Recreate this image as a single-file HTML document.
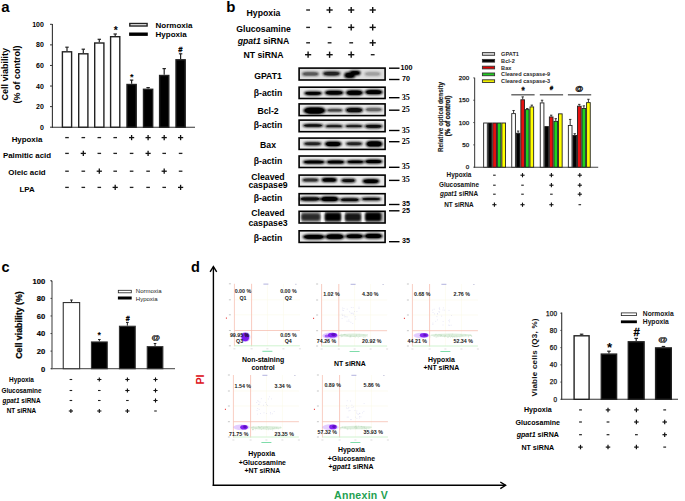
<!DOCTYPE html>
<html><head><meta charset="utf-8"><style>
html,body{margin:0;padding:0;background:#fff;}
svg{display:block;font-family:"Liberation Sans", sans-serif;}
</style></head><body>
<svg width="685" height="501" viewBox="0 0 685 501">
<rect width="685" height="501" fill="#fff"/>
<text x="1.2" y="11.5" font-size="15" text-anchor="start" fill="#000" style="font-weight:bold;">a</text>
<line x1="52.4" y1="24.0" x2="52.4" y2="127.7" stroke="#333" stroke-width="1.1" />
<line x1="51.9" y1="127.2" x2="195" y2="127.2" stroke="#333" stroke-width="1.1" />
<line x1="50.0" y1="127.2" x2="52.4" y2="127.2" stroke="#333" stroke-width="1" />
<text x="43.9" y="129.7" font-size="7" text-anchor="end" fill="#000" style="font-weight:bold;">0</text>
<line x1="50.0" y1="106.62" x2="52.4" y2="106.62" stroke="#333" stroke-width="1" />
<text x="43.9" y="109.12" font-size="7" text-anchor="end" fill="#000" style="font-weight:bold;">20</text>
<line x1="50.0" y1="86.04" x2="52.4" y2="86.04" stroke="#333" stroke-width="1" />
<text x="43.9" y="88.54" font-size="7" text-anchor="end" fill="#000" style="font-weight:bold;">40</text>
<line x1="50.0" y1="65.46000000000001" x2="52.4" y2="65.46000000000001" stroke="#333" stroke-width="1" />
<text x="43.9" y="67.96000000000001" font-size="7" text-anchor="end" fill="#000" style="font-weight:bold;">60</text>
<line x1="50.0" y1="44.88000000000001" x2="52.4" y2="44.88000000000001" stroke="#333" stroke-width="1" />
<text x="43.9" y="47.38000000000001" font-size="7" text-anchor="end" fill="#000" style="font-weight:bold;">80</text>
<line x1="50.0" y1="24.30000000000001" x2="52.4" y2="24.30000000000001" stroke="#333" stroke-width="1" />
<text x="43.9" y="26.80000000000001" font-size="7" text-anchor="end" fill="#000" style="font-weight:bold;">100</text>
<line x1="67" y1="51.1" x2="67" y2="47.2" stroke="#222" stroke-width="1.2" />
<line x1="65.3" y1="47.2" x2="68.7" y2="47.2" stroke="#222" stroke-width="1.2" />
<rect x="62.40" y="51.80" width="9.20" height="75.40" fill="#fff" stroke="#222" stroke-width="1.4" />
<line x1="83.3" y1="53.1" x2="83.3" y2="49.2" stroke="#222" stroke-width="1.2" />
<line x1="81.6" y1="49.2" x2="85.0" y2="49.2" stroke="#222" stroke-width="1.2" />
<rect x="78.70" y="53.80" width="9.20" height="73.40" fill="#fff" stroke="#222" stroke-width="1.4" />
<line x1="99.3" y1="42.3" x2="99.3" y2="39.3" stroke="#222" stroke-width="1.2" />
<line x1="97.6" y1="39.3" x2="101.0" y2="39.3" stroke="#222" stroke-width="1.2" />
<rect x="94.70" y="43.00" width="9.20" height="84.20" fill="#fff" stroke="#222" stroke-width="1.4" />
<line x1="115.2" y1="36.0" x2="115.2" y2="34.0" stroke="#222" stroke-width="1.2" />
<line x1="113.5" y1="34.0" x2="116.9" y2="34.0" stroke="#222" stroke-width="1.2" />
<rect x="110.60" y="36.70" width="9.20" height="90.50" fill="#fff" stroke="#222" stroke-width="1.4" />
<line x1="131.6" y1="83.8" x2="131.6" y2="80.1" stroke="#222" stroke-width="1.2" />
<line x1="129.9" y1="80.1" x2="133.29999999999998" y2="80.1" stroke="#222" stroke-width="1.2" />
<rect x="127.00" y="84.50" width="9.20" height="42.70" fill="#000" stroke="#222" stroke-width="1.4" />
<line x1="148.1" y1="88.6" x2="148.1" y2="87.6" stroke="#222" stroke-width="1.2" />
<line x1="146.4" y1="87.6" x2="149.79999999999998" y2="87.6" stroke="#222" stroke-width="1.2" />
<rect x="143.50" y="89.30" width="9.20" height="37.90" fill="#000" stroke="#222" stroke-width="1.4" />
<line x1="164.2" y1="74.8" x2="164.2" y2="68.6" stroke="#222" stroke-width="1.2" />
<line x1="162.5" y1="68.6" x2="165.89999999999998" y2="68.6" stroke="#222" stroke-width="1.2" />
<rect x="159.60" y="75.50" width="9.20" height="51.70" fill="#000" stroke="#222" stroke-width="1.4" />
<line x1="180.6" y1="59.1" x2="180.6" y2="53.8" stroke="#222" stroke-width="1.2" />
<line x1="178.9" y1="53.8" x2="182.29999999999998" y2="53.8" stroke="#222" stroke-width="1.2" />
<rect x="176.00" y="59.80" width="9.20" height="67.40" fill="#000" stroke="#222" stroke-width="1.4" />
<text x="115.7" y="34.0" font-size="10.4" text-anchor="middle" fill="#000" style="font-weight:bold;">*</text>
<text x="131.7" y="79.9" font-size="9.2" text-anchor="middle" fill="#000" style="font-weight:bold;">*</text>
<text x="180.2" y="51.7" font-size="7.4" text-anchor="middle" fill="#000" style="font-weight:bold;font-style:italic;stroke:#000;stroke-width:0.3px">#</text>
<rect x="129.80" y="23.50" width="17.30" height="2.50" fill="#fff" stroke="#222" stroke-width="1.4" />
<rect x="129.10" y="32.50" width="18.70" height="3.40" fill="#000" stroke="none" stroke-width="0" />
<text x="155.6" y="27.6" font-size="8" text-anchor="start" fill="#000" style="font-weight:bold;">Normoxia</text>
<text x="155.6" y="37.1" font-size="8" text-anchor="start" fill="#000" style="font-weight:bold;">Hypoxia</text>
<text transform="translate(7.9,74.3) rotate(-90)" font-size="9" text-anchor="middle" fill="#000" style="font-weight:bold;">Cell viability</text>
<text transform="translate(19.7,74.5) rotate(-90)" font-size="9" text-anchor="middle" fill="#000" style="font-weight:bold;">(% of control)</text>
<text x="27" y="141.9" font-size="7.9" text-anchor="middle" fill="#000" style="font-weight:bold;">Hypoxia</text>
<line x1="65.2" y1="137.6" x2="68.8" y2="137.6" stroke="#222" stroke-width="1.3" />
<line x1="81.5" y1="137.6" x2="85.1" y2="137.6" stroke="#222" stroke-width="1.3" />
<line x1="97.5" y1="137.6" x2="101.1" y2="137.6" stroke="#222" stroke-width="1.3" />
<line x1="113.4" y1="137.6" x2="117.0" y2="137.6" stroke="#222" stroke-width="1.3" />
<line x1="129.0" y1="137.6" x2="134.2" y2="137.6" stroke="#111" stroke-width="1.3" />
<line x1="131.6" y1="135.0" x2="131.6" y2="140.2" stroke="#111" stroke-width="1.3" />
<line x1="145.5" y1="137.6" x2="150.7" y2="137.6" stroke="#111" stroke-width="1.3" />
<line x1="148.1" y1="135.0" x2="148.1" y2="140.2" stroke="#111" stroke-width="1.3" />
<line x1="161.6" y1="137.6" x2="166.79999999999998" y2="137.6" stroke="#111" stroke-width="1.3" />
<line x1="164.2" y1="135.0" x2="164.2" y2="140.2" stroke="#111" stroke-width="1.3" />
<line x1="178.0" y1="137.6" x2="183.2" y2="137.6" stroke="#111" stroke-width="1.3" />
<line x1="180.6" y1="135.0" x2="180.6" y2="140.2" stroke="#111" stroke-width="1.3" />
<text x="27" y="157.7" font-size="7.9" text-anchor="middle" fill="#000" style="font-weight:bold;">Palmitic acid</text>
<line x1="65.2" y1="153.39999999999998" x2="68.8" y2="153.39999999999998" stroke="#222" stroke-width="1.3" />
<line x1="80.7" y1="153.39999999999998" x2="85.89999999999999" y2="153.39999999999998" stroke="#111" stroke-width="1.3" />
<line x1="83.3" y1="150.79999999999998" x2="83.3" y2="155.99999999999997" stroke="#111" stroke-width="1.3" />
<line x1="97.5" y1="153.39999999999998" x2="101.1" y2="153.39999999999998" stroke="#222" stroke-width="1.3" />
<line x1="113.4" y1="153.39999999999998" x2="117.0" y2="153.39999999999998" stroke="#222" stroke-width="1.3" />
<line x1="129.79999999999998" y1="153.39999999999998" x2="133.4" y2="153.39999999999998" stroke="#222" stroke-width="1.3" />
<line x1="145.5" y1="153.39999999999998" x2="150.7" y2="153.39999999999998" stroke="#111" stroke-width="1.3" />
<line x1="148.1" y1="150.79999999999998" x2="148.1" y2="155.99999999999997" stroke="#111" stroke-width="1.3" />
<line x1="162.39999999999998" y1="153.39999999999998" x2="166.0" y2="153.39999999999998" stroke="#222" stroke-width="1.3" />
<line x1="178.79999999999998" y1="153.39999999999998" x2="182.4" y2="153.39999999999998" stroke="#222" stroke-width="1.3" />
<text x="27" y="174.8" font-size="7.9" text-anchor="middle" fill="#000" style="font-weight:bold;">Oleic acid</text>
<line x1="65.2" y1="171.2" x2="68.8" y2="171.2" stroke="#222" stroke-width="1.3" />
<line x1="81.5" y1="171.2" x2="85.1" y2="171.2" stroke="#222" stroke-width="1.3" />
<line x1="96.7" y1="171.2" x2="101.89999999999999" y2="171.2" stroke="#111" stroke-width="1.3" />
<line x1="99.3" y1="168.6" x2="99.3" y2="173.79999999999998" stroke="#111" stroke-width="1.3" />
<line x1="113.4" y1="171.2" x2="117.0" y2="171.2" stroke="#222" stroke-width="1.3" />
<line x1="129.79999999999998" y1="171.2" x2="133.4" y2="171.2" stroke="#222" stroke-width="1.3" />
<line x1="146.29999999999998" y1="171.2" x2="149.9" y2="171.2" stroke="#222" stroke-width="1.3" />
<line x1="161.6" y1="171.2" x2="166.79999999999998" y2="171.2" stroke="#111" stroke-width="1.3" />
<line x1="164.2" y1="168.6" x2="164.2" y2="173.79999999999998" stroke="#111" stroke-width="1.3" />
<line x1="178.79999999999998" y1="171.2" x2="182.4" y2="171.2" stroke="#222" stroke-width="1.3" />
<text x="27" y="191.7" font-size="7.9" text-anchor="middle" fill="#000" style="font-weight:bold;">LPA</text>
<line x1="65.2" y1="187.39999999999998" x2="68.8" y2="187.39999999999998" stroke="#222" stroke-width="1.3" />
<line x1="81.5" y1="187.39999999999998" x2="85.1" y2="187.39999999999998" stroke="#222" stroke-width="1.3" />
<line x1="97.5" y1="187.39999999999998" x2="101.1" y2="187.39999999999998" stroke="#222" stroke-width="1.3" />
<line x1="112.60000000000001" y1="187.39999999999998" x2="117.8" y2="187.39999999999998" stroke="#111" stroke-width="1.3" />
<line x1="115.2" y1="184.79999999999998" x2="115.2" y2="189.99999999999997" stroke="#111" stroke-width="1.3" />
<line x1="129.79999999999998" y1="187.39999999999998" x2="133.4" y2="187.39999999999998" stroke="#222" stroke-width="1.3" />
<line x1="146.29999999999998" y1="187.39999999999998" x2="149.9" y2="187.39999999999998" stroke="#222" stroke-width="1.3" />
<line x1="162.39999999999998" y1="187.39999999999998" x2="166.0" y2="187.39999999999998" stroke="#222" stroke-width="1.3" />
<line x1="178.0" y1="187.39999999999998" x2="183.2" y2="187.39999999999998" stroke="#111" stroke-width="1.3" />
<line x1="180.6" y1="184.79999999999998" x2="180.6" y2="189.99999999999997" stroke="#111" stroke-width="1.3" />
<text x="226.2" y="11.5" font-size="15" text-anchor="start" fill="#000" style="font-weight:bold;">b</text>
<text x="263.5" y="15.8" font-size="8.7" text-anchor="middle" fill="#000" style="font-weight:bold;">Hypoxia</text>
<line x1="306.20000000000005" y1="10.0" x2="310.0" y2="10.0" stroke="#222" stroke-width="1.4" />
<line x1="326.5" y1="10.0" x2="332.70000000000005" y2="10.0" stroke="#111" stroke-width="1.4" />
<line x1="329.6" y1="6.9" x2="329.6" y2="13.1" stroke="#111" stroke-width="1.4" />
<line x1="348.09999999999997" y1="10.0" x2="354.3" y2="10.0" stroke="#111" stroke-width="1.4" />
<line x1="351.2" y1="6.9" x2="351.2" y2="13.1" stroke="#111" stroke-width="1.4" />
<line x1="369.59999999999997" y1="10.0" x2="375.8" y2="10.0" stroke="#111" stroke-width="1.4" />
<line x1="372.7" y1="6.9" x2="372.7" y2="13.1" stroke="#111" stroke-width="1.4" />
<text x="263.5" y="31.9" font-size="8.7" text-anchor="middle" fill="#000" style="font-weight:bold;">Glucosamine</text>
<line x1="306.20000000000005" y1="27.4" x2="310.0" y2="27.4" stroke="#222" stroke-width="1.4" />
<line x1="327.70000000000005" y1="27.4" x2="331.5" y2="27.4" stroke="#222" stroke-width="1.4" />
<line x1="348.09999999999997" y1="27.4" x2="354.3" y2="27.4" stroke="#111" stroke-width="1.4" />
<line x1="351.2" y1="24.299999999999997" x2="351.2" y2="30.5" stroke="#111" stroke-width="1.4" />
<line x1="369.59999999999997" y1="27.4" x2="375.8" y2="27.4" stroke="#111" stroke-width="1.4" />
<line x1="372.7" y1="24.299999999999997" x2="372.7" y2="30.5" stroke="#111" stroke-width="1.4" />
<text x="263.5" y="44.2" font-size="8.7" text-anchor="middle" fill="#000" style="font-weight:bold;"><tspan style="font-style:italic">gpat1</tspan> siRNA</text>
<line x1="306.20000000000005" y1="42.8" x2="310.0" y2="42.8" stroke="#222" stroke-width="1.4" />
<line x1="327.70000000000005" y1="42.8" x2="331.5" y2="42.8" stroke="#222" stroke-width="1.4" />
<line x1="349.3" y1="42.8" x2="353.09999999999997" y2="42.8" stroke="#222" stroke-width="1.4" />
<line x1="369.59999999999997" y1="42.8" x2="375.8" y2="42.8" stroke="#111" stroke-width="1.4" />
<line x1="372.7" y1="39.699999999999996" x2="372.7" y2="45.9" stroke="#111" stroke-width="1.4" />
<text x="263.5" y="58.1" font-size="8.7" text-anchor="middle" fill="#000" style="font-weight:bold;">NT siRNA</text>
<line x1="305.0" y1="54.7" x2="311.20000000000005" y2="54.7" stroke="#111" stroke-width="1.4" />
<line x1="308.1" y1="51.6" x2="308.1" y2="57.800000000000004" stroke="#111" stroke-width="1.4" />
<line x1="326.5" y1="54.7" x2="332.70000000000005" y2="54.7" stroke="#111" stroke-width="1.4" />
<line x1="329.6" y1="51.6" x2="329.6" y2="57.800000000000004" stroke="#111" stroke-width="1.4" />
<line x1="348.09999999999997" y1="54.7" x2="354.3" y2="54.7" stroke="#111" stroke-width="1.4" />
<line x1="351.2" y1="51.6" x2="351.2" y2="57.800000000000004" stroke="#111" stroke-width="1.4" />
<line x1="370.8" y1="54.7" x2="374.59999999999997" y2="54.7" stroke="#222" stroke-width="1.4" />
<rect x="482.40" y="52.60" width="12.20" height="2.70" fill="#d4d4d4" stroke="#333" stroke-width="0.9" />
<text x="501.1" y="55.9" font-size="5.6" text-anchor="start" fill="#2a2a2a" style="font-weight:bold;">GPAT1</text>
<rect x="482.40" y="59.40" width="12.20" height="2.70" fill="#000" stroke="#333" stroke-width="0.9" />
<text x="501.1" y="62.699999999999996" font-size="5.6" text-anchor="start" fill="#2a2a2a" style="font-weight:bold;">Bcl-2</text>
<rect x="482.40" y="66.20" width="12.20" height="2.70" fill="#e00000" stroke="#333" stroke-width="0.9" />
<text x="501.1" y="69.5" font-size="5.6" text-anchor="start" fill="#2a2a2a" style="font-weight:bold;">Bax</text>
<rect x="482.40" y="73.00" width="12.20" height="2.70" fill="#22cc22" stroke="#333" stroke-width="0.9" />
<text x="501.1" y="76.3" font-size="5.6" text-anchor="start" fill="#2a2a2a" style="font-weight:bold;">Cleared caspase-9</text>
<rect x="482.40" y="79.80" width="12.20" height="2.70" fill="#f0f000" stroke="#333" stroke-width="0.9" />
<text x="501.1" y="83.1" font-size="5.6" text-anchor="start" fill="#2a2a2a" style="font-weight:bold;">Cleared caspase-3</text>
<text x="1.4" y="272.1" font-size="14.5" text-anchor="start" fill="#000" style="font-weight:bold;">c</text>
<text x="190.9" y="272.1" font-size="14.5" text-anchor="start" fill="#000" style="font-weight:bold;">d</text>
<defs><filter id="bl" x="-30%" y="-100%" width="160%" height="300%"><feGaussianBlur stdDeviation="1.0"/></filter><filter id="bl2" x="-30%" y="-100%" width="160%" height="300%"><feGaussianBlur stdDeviation="0.6"/></filter><filter id="bl3" x="-50%" y="-50%" width="200%" height="200%"><feGaussianBlur stdDeviation="1.2"/></filter></defs>
<rect x="299.10" y="68.10" width="86.00" height="11.90" fill="#dedede" stroke="none" stroke-width="0" />
<g filter="url(#bl)">
<rect x="301.80" y="71.85" width="17.30" height="4.20" rx="5.19" ry="2.10" fill="#5a5a5a"/>
<rect x="322.60" y="71.15" width="17.90" height="4.90" rx="5.37" ry="2.45" fill="#222"/>
<rect x="344.10" y="72.35" width="11.30" height="5.90" rx="3.39" ry="2.95" fill="#000"/>
<rect x="349.10" y="70.55" width="11.60" height="4.70" rx="3.48" ry="2.35" fill="#000"/>
<rect x="364.30" y="71.85" width="16.60" height="4.20" rx="4.98" ry="2.10" fill="#a0a0a0"/>
</g>
<g filter="url(#bl2)">
<rect x="303.60" y="72.60" width="13.70" height="2.70" rx="4.11" ry="1.35" fill="#5a5a5a"/>
<rect x="324.40" y="71.90" width="14.30" height="3.40" rx="4.29" ry="1.70" fill="#222"/>
<rect x="345.90" y="73.10" width="7.70" height="4.40" rx="2.31" ry="2.20" fill="#000"/>
<rect x="350.90" y="71.30" width="8.00" height="3.20" rx="2.40" ry="1.60" fill="#000"/>
<rect x="366.10" y="72.60" width="13.00" height="2.70" rx="3.90" ry="1.35" fill="#a0a0a0"/>
</g>
<rect x="299.10" y="68.10" width="86.00" height="11.90" fill="none" stroke="#000" stroke-width="1.6" />
<rect x="299.10" y="87.20" width="86.00" height="11.30" fill="#e9e9e9" stroke="none" stroke-width="0" />
<g filter="url(#bl)">
<rect x="303.80" y="91.25" width="18.60" height="4.20" rx="5.58" ry="2.10" fill="#000"/>
<rect x="324.40" y="90.35" width="19.50" height="4.80" rx="5.85" ry="2.40" fill="#000"/>
<rect x="345.50" y="89.95" width="17.90" height="5.50" rx="5.37" ry="2.75" fill="#000"/>
<rect x="364.70" y="89.55" width="18.20" height="5.30" rx="5.46" ry="2.65" fill="#000"/>
</g>
<g filter="url(#bl2)">
<rect x="305.60" y="92.00" width="15.00" height="2.70" rx="4.50" ry="1.35" fill="#000"/>
<rect x="326.20" y="91.10" width="15.90" height="3.30" rx="4.77" ry="1.65" fill="#000"/>
<rect x="347.30" y="90.70" width="14.30" height="4.00" rx="4.29" ry="2.00" fill="#000"/>
<rect x="366.50" y="90.30" width="14.60" height="3.80" rx="4.38" ry="1.90" fill="#000"/>
</g>
<rect x="299.10" y="87.20" width="86.00" height="11.30" fill="none" stroke="#000" stroke-width="1.6" />
<rect x="299.10" y="103.90" width="86.00" height="11.70" fill="#e9e9e9" stroke="none" stroke-width="0" />
<g filter="url(#bl)">
<rect x="303.20" y="106.95" width="22.60" height="7.20" rx="6.78" ry="3.60" fill="#000"/>
<rect x="326.30" y="108.45" width="16.90" height="3.60" rx="5.07" ry="1.80" fill="#444"/>
<rect x="345.10" y="107.45" width="18.30" height="5.20" rx="5.49" ry="2.60" fill="#080808"/>
<rect x="364.70" y="107.55" width="18.20" height="4.10" rx="5.46" ry="2.05" fill="#666"/>
</g>
<g filter="url(#bl2)">
<rect x="305.00" y="107.70" width="19.00" height="5.70" rx="5.70" ry="2.85" fill="#000"/>
<rect x="328.10" y="109.20" width="13.30" height="2.10" rx="3.99" ry="1.05" fill="#444"/>
<rect x="346.90" y="108.20" width="14.70" height="3.70" rx="4.41" ry="1.85" fill="#080808"/>
<rect x="366.50" y="108.30" width="14.60" height="2.60" rx="4.38" ry="1.30" fill="#666"/>
</g>
<rect x="299.10" y="103.90" width="86.00" height="11.70" fill="none" stroke="#000" stroke-width="1.6" />
<rect x="299.10" y="120.10" width="86.00" height="11.60" fill="#e9e9e9" stroke="none" stroke-width="0" />
<g filter="url(#bl)">
<rect x="302.50" y="123.65" width="21.00" height="3.50" rx="6.30" ry="1.75" fill="#0a0a0a"/>
<rect x="324.90" y="124.55" width="18.30" height="3.20" rx="5.49" ry="1.60" fill="#1a1a1a"/>
<rect x="344.50" y="124.55" width="18.90" height="3.20" rx="5.67" ry="1.60" fill="#1a1a1a"/>
<rect x="364.30" y="124.15" width="18.60" height="4.30" rx="5.58" ry="2.15" fill="#111"/>
</g>
<g filter="url(#bl2)">
<rect x="304.30" y="124.40" width="17.40" height="2.00" rx="5.22" ry="1.00" fill="#0a0a0a"/>
<rect x="326.70" y="125.30" width="14.70" height="1.70" rx="4.41" ry="0.85" fill="#1a1a1a"/>
<rect x="346.30" y="125.30" width="15.30" height="1.70" rx="4.59" ry="0.85" fill="#1a1a1a"/>
<rect x="366.10" y="124.90" width="15.00" height="2.80" rx="4.50" ry="1.40" fill="#111"/>
</g>
<rect x="299.10" y="120.10" width="86.00" height="11.60" fill="none" stroke="#000" stroke-width="1.6" />
<rect x="299.10" y="138.10" width="86.00" height="11.30" fill="#e9e9e9" stroke="none" stroke-width="0" />
<g filter="url(#bl)">
<rect x="303.40" y="141.85" width="18.30" height="3.80" rx="5.49" ry="1.90" fill="#222"/>
<rect x="324.40" y="141.15" width="17.50" height="5.50" rx="5.25" ry="2.75" fill="#000"/>
<rect x="345.50" y="141.85" width="17.20" height="3.80" rx="5.16" ry="1.90" fill="#222"/>
<rect x="365.60" y="140.75" width="17.30" height="6.30" rx="5.19" ry="3.15" fill="#000"/>
</g>
<g filter="url(#bl2)">
<rect x="305.20" y="142.60" width="14.70" height="2.30" rx="4.41" ry="1.15" fill="#222"/>
<rect x="326.20" y="141.90" width="13.90" height="4.00" rx="4.17" ry="2.00" fill="#000"/>
<rect x="347.30" y="142.60" width="13.60" height="2.30" rx="4.08" ry="1.15" fill="#222"/>
<rect x="367.40" y="141.50" width="13.70" height="4.80" rx="4.11" ry="2.40" fill="#000"/>
</g>
<rect x="299.10" y="138.10" width="86.00" height="11.30" fill="none" stroke="#000" stroke-width="1.6" />
<rect x="299.10" y="156.00" width="86.00" height="11.50" fill="#e9e9e9" stroke="none" stroke-width="0" />
<g filter="url(#bl)">
<rect x="302.50" y="159.95" width="22.90" height="4.10" rx="6.87" ry="2.05" fill="#000"/>
<rect x="326.00" y="159.95" width="19.20" height="4.10" rx="5.76" ry="2.05" fill="#000"/>
<rect x="346.10" y="159.95" width="18.60" height="3.80" rx="5.58" ry="1.90" fill="#000"/>
<rect x="364.30" y="159.25" width="18.60" height="4.50" rx="5.58" ry="2.25" fill="#000"/>
</g>
<g filter="url(#bl2)">
<rect x="304.30" y="160.70" width="19.30" height="2.60" rx="5.79" ry="1.30" fill="#000"/>
<rect x="327.80" y="160.70" width="15.60" height="2.60" rx="4.68" ry="1.30" fill="#000"/>
<rect x="347.90" y="160.70" width="15.00" height="2.30" rx="4.50" ry="1.15" fill="#000"/>
<rect x="366.10" y="160.00" width="15.00" height="3.00" rx="4.50" ry="1.50" fill="#000"/>
</g>
<rect x="299.10" y="156.00" width="86.00" height="11.50" fill="none" stroke="#000" stroke-width="1.6" />
<rect x="299.10" y="175.10" width="86.00" height="11.40" fill="#e9e9e9" stroke="none" stroke-width="0" />
<g filter="url(#bl)">
<rect x="301.80" y="178.05" width="17.30" height="4.00" rx="5.19" ry="2.00" fill="#333"/>
<rect x="321.30" y="177.55" width="15.90" height="4.80" rx="4.77" ry="2.40" fill="#000"/>
<rect x="340.80" y="178.45" width="15.20" height="4.20" rx="4.56" ry="2.10" fill="#111"/>
<rect x="362.30" y="178.85" width="17.20" height="4.80" rx="5.16" ry="2.40" fill="#000"/>
</g>
<g filter="url(#bl2)">
<rect x="303.60" y="178.80" width="13.70" height="2.50" rx="4.11" ry="1.25" fill="#333"/>
<rect x="323.10" y="178.30" width="12.30" height="3.30" rx="3.69" ry="1.65" fill="#000"/>
<rect x="342.60" y="179.20" width="11.60" height="2.70" rx="3.48" ry="1.35" fill="#111"/>
<rect x="364.10" y="179.60" width="13.60" height="3.30" rx="4.08" ry="1.65" fill="#000"/>
</g>
<rect x="299.10" y="175.10" width="86.00" height="11.40" fill="none" stroke="#000" stroke-width="1.6" />
<rect x="299.10" y="193.70" width="86.00" height="11.40" fill="#e9e9e9" stroke="none" stroke-width="0" />
<g filter="url(#bl)">
<rect x="299.10" y="196.85" width="22.00" height="4.30" rx="6.60" ry="2.15" fill="#111"/>
<rect x="319.90" y="196.35" width="19.30" height="5.50" rx="5.79" ry="2.75" fill="#000"/>
<rect x="339.40" y="197.65" width="20.60" height="4.20" rx="6.18" ry="2.10" fill="#111"/>
<rect x="360.90" y="197.25" width="20.60" height="3.60" rx="6.18" ry="1.80" fill="#111"/>
</g>
<g filter="url(#bl2)">
<rect x="300.90" y="197.60" width="18.40" height="2.80" rx="5.52" ry="1.40" fill="#111"/>
<rect x="321.70" y="197.10" width="15.70" height="4.00" rx="4.71" ry="2.00" fill="#000"/>
<rect x="341.20" y="198.40" width="17.00" height="2.70" rx="5.10" ry="1.35" fill="#111"/>
<rect x="362.70" y="198.00" width="17.00" height="2.10" rx="5.10" ry="1.05" fill="#111"/>
</g>
<rect x="299.10" y="193.70" width="86.00" height="11.40" fill="none" stroke="#000" stroke-width="1.6" />
<rect x="299.10" y="211.30" width="86.00" height="11.70" fill="#c4c4c4" stroke="none" stroke-width="0" />
<rect x="320.80" y="211.50" width="4.20" height="11.30" fill="#ffffff" stroke="none" stroke-width="0" filter="url(#bl2)"/>
<rect x="341.10" y="211.50" width="4.20" height="11.30" fill="#ffffff" stroke="none" stroke-width="0" filter="url(#bl2)"/>
<rect x="361.50" y="211.50" width="4.20" height="11.30" fill="#ffffff" stroke="none" stroke-width="0" filter="url(#bl2)"/>
<rect x="299.50" y="211.50" width="2.20" height="11.30" fill="#f4f4f4" stroke="none" stroke-width="0" filter="url(#bl2)"/>
<g filter="url(#bl)">
<rect x="301.10" y="213.25" width="19.30" height="7.40" rx="2.5" fill="#2a2a2a"/>
<rect x="324.60" y="212.55" width="16.60" height="8.80" rx="2.5" fill="#000"/>
<rect x="344.80" y="213.05" width="16.30" height="8.20" rx="2.5" fill="#141414"/>
<rect x="364.90" y="212.15" width="16.60" height="9.20" rx="2.5" fill="#000"/>
</g>
<rect x="299.10" y="211.30" width="86.00" height="11.70" fill="none" stroke="#000" stroke-width="1.6" />
<rect x="299.10" y="230.80" width="86.00" height="11.60" fill="#e9e9e9" stroke="none" stroke-width="0" />
<g filter="url(#bl)">
<rect x="302.50" y="234.25" width="22.60" height="5.20" rx="6.78" ry="2.60" fill="#000"/>
<rect x="324.90" y="233.85" width="19.70" height="5.60" rx="5.91" ry="2.80" fill="#000"/>
<rect x="345.10" y="233.85" width="18.70" height="5.00" rx="5.61" ry="2.50" fill="#000"/>
<rect x="363.90" y="233.35" width="19.00" height="5.50" rx="5.70" ry="2.75" fill="#000"/>
</g>
<g filter="url(#bl2)">
<rect x="304.30" y="235.00" width="19.00" height="3.70" rx="5.70" ry="1.85" fill="#000"/>
<rect x="326.70" y="234.60" width="16.10" height="4.10" rx="4.83" ry="2.05" fill="#000"/>
<rect x="346.90" y="234.60" width="15.10" height="3.50" rx="4.53" ry="1.75" fill="#000"/>
<rect x="365.70" y="234.10" width="15.40" height="4.00" rx="4.62" ry="2.00" fill="#000"/>
</g>
<rect x="299.10" y="230.80" width="86.00" height="11.60" fill="none" stroke="#000" stroke-width="1.6" />
<line x1="389" y1="68.2" x2="399.5" y2="68.2" stroke="#000" stroke-width="1.4" />
<text x="400.5" y="69.9" font-size="7.2" text-anchor="start" fill="#000" style="font-weight:bold;">100</text>
<line x1="389" y1="79.5" x2="399.5" y2="79.5" stroke="#000" stroke-width="1.4" />
<text x="402.0" y="81.2" font-size="7.2" text-anchor="start" fill="#000" style="font-weight:bold;">70</text>
<line x1="389" y1="97.7" x2="399.5" y2="97.7" stroke="#000" stroke-width="1.4" />
<text x="401.8" y="99.7" font-size="8.1" text-anchor="start" fill="#000" style="font-weight:bold;font-family:'Liberation Serif',serif">35</text>
<line x1="389" y1="110.2" x2="399.5" y2="110.2" stroke="#000" stroke-width="1.4" />
<text x="401.8" y="112.2" font-size="8.1" text-anchor="start" fill="#000" style="font-weight:bold;font-family:'Liberation Serif',serif">25</text>
<line x1="389" y1="130.5" x2="399.5" y2="130.5" stroke="#000" stroke-width="1.4" />
<text x="401.8" y="132.5" font-size="8.1" text-anchor="start" fill="#000" style="font-weight:bold;font-family:'Liberation Serif',serif">35</text>
<line x1="389" y1="141.7" x2="399.5" y2="141.7" stroke="#000" stroke-width="1.4" />
<text x="401.8" y="143.7" font-size="8.1" text-anchor="start" fill="#000" style="font-weight:bold;font-family:'Liberation Serif',serif">25</text>
<line x1="389" y1="167.3" x2="399.5" y2="167.3" stroke="#000" stroke-width="1.4" />
<text x="401.8" y="169.3" font-size="8.1" text-anchor="start" fill="#000" style="font-weight:bold;font-family:'Liberation Serif',serif">35</text>
<line x1="389" y1="180.4" x2="399.5" y2="180.4" stroke="#000" stroke-width="1.4" />
<text x="401.8" y="182.4" font-size="8.1" text-anchor="start" fill="#000" style="font-weight:bold;font-family:'Liberation Serif',serif">35</text>
<line x1="389" y1="204.5" x2="399.5" y2="204.5" stroke="#000" stroke-width="1.4" />
<text x="402.0" y="206.2" font-size="7.2" text-anchor="start" fill="#000" style="font-weight:bold;">35</text>
<line x1="389" y1="210.8" x2="399.5" y2="210.8" stroke="#000" stroke-width="1.4" />
<text x="402.0" y="212.5" font-size="7.2" text-anchor="start" fill="#000" style="font-weight:bold;">25</text>
<line x1="389" y1="241.7" x2="399.5" y2="241.7" stroke="#000" stroke-width="1.4" />
<text x="402.0" y="243.39999999999998" font-size="7.2" text-anchor="start" fill="#000" style="font-weight:bold;">35</text>
<text x="268" y="78.5" font-size="8.7" text-anchor="middle" fill="#000" style="font-weight:bold;">GPAT1</text>
<text x="268" y="95.6" font-size="8.7" text-anchor="middle" fill="#000" style="font-weight:bold;">&#946;-actin</text>
<text x="268" y="113.9" font-size="8.7" text-anchor="middle" fill="#000" style="font-weight:bold;">Bcl-2</text>
<text x="268" y="128.3" font-size="8.7" text-anchor="middle" fill="#000" style="font-weight:bold;">&#946;-actin</text>
<text x="268" y="148.0" font-size="8.7" text-anchor="middle" fill="#000" style="font-weight:bold;">Bax</text>
<text x="268" y="164.4" font-size="8.7" text-anchor="middle" fill="#000" style="font-weight:bold;">&#946;-actin</text>
<text x="268" y="179.9" font-size="8.7" text-anchor="middle" fill="#000" style="font-weight:bold;">Cleaved</text>
<text x="268" y="187.9" font-size="8.7" text-anchor="middle" fill="#000" style="font-weight:bold;">caspase9</text>
<text x="268" y="201.4" font-size="8.7" text-anchor="middle" fill="#000" style="font-weight:bold;">&#946;-actin</text>
<text x="268" y="216.2" font-size="8.7" text-anchor="middle" fill="#000" style="font-weight:bold;">Cleaved</text>
<text x="268" y="225.7" font-size="8.7" text-anchor="middle" fill="#000" style="font-weight:bold;">caspase3</text>
<text x="268" y="241.3" font-size="8.7" text-anchor="middle" fill="#000" style="font-weight:bold;">&#946;-actin</text>
<line x1="474.6" y1="77.8" x2="474.6" y2="167.7" stroke="#555" stroke-width="1.2" />
<line x1="474.1" y1="167.2" x2="598.2" y2="167.2" stroke="#444" stroke-width="1.1" />
<line x1="473.3" y1="167.2" x2="474.6" y2="167.2" stroke="#333" stroke-width="0.9" />
<text x="469.1" y="169.39999999999998" font-size="6.2" text-anchor="end" fill="#111" style=";stroke:#111;stroke-width:0.25px">0</text>
<line x1="473.3" y1="144.875" x2="474.6" y2="144.875" stroke="#333" stroke-width="0.9" />
<text x="469.1" y="147.075" font-size="6.2" text-anchor="end" fill="#111" style=";stroke:#111;stroke-width:0.25px">50</text>
<line x1="473.3" y1="122.54999999999998" x2="474.6" y2="122.54999999999998" stroke="#333" stroke-width="0.9" />
<text x="469.1" y="124.74999999999999" font-size="6.2" text-anchor="end" fill="#111" style=";stroke:#111;stroke-width:0.25px">100</text>
<line x1="473.3" y1="100.225" x2="474.6" y2="100.225" stroke="#333" stroke-width="0.9" />
<text x="469.1" y="102.425" font-size="6.2" text-anchor="end" fill="#111" style=";stroke:#111;stroke-width:0.25px">150</text>
<line x1="473.3" y1="77.89999999999999" x2="474.6" y2="77.89999999999999" stroke="#333" stroke-width="0.9" />
<text x="469.1" y="80.1" font-size="6.2" text-anchor="end" fill="#111" style=";stroke:#111;stroke-width:0.25px">200</text>
<rect x="483.65" y="123.00" width="3.66" height="44.20" fill="#fff" stroke="#222" stroke-width="0.9" />
<rect x="488.21" y="123.00" width="3.66" height="44.20" fill="#000" stroke="#222" stroke-width="0.9" />
<rect x="492.77" y="123.00" width="3.66" height="44.20" fill="#e61010" stroke="#222" stroke-width="0.9" />
<rect x="497.33" y="123.00" width="3.66" height="44.20" fill="#1ed21e" stroke="#222" stroke-width="0.9" />
<rect x="501.89" y="123.00" width="3.66" height="44.20" fill="#ffff00" stroke="#222" stroke-width="0.9" />
<line x1="513.58" y1="113.17349999999999" x2="513.58" y2="110.49449999999999" stroke="#222" stroke-width="0.9" />
<line x1="512.38" y1="110.49449999999999" x2="514.7800000000001" y2="110.49449999999999" stroke="#222" stroke-width="0.9" />
<rect x="511.75" y="113.62" width="3.66" height="53.58" fill="#fff" stroke="#222" stroke-width="0.9" />
<line x1="518.14" y1="132.8195" x2="518.14" y2="131.0335" stroke="#222" stroke-width="0.9" />
<line x1="516.9399999999999" y1="131.0335" x2="519.34" y2="131.0335" stroke="#222" stroke-width="0.9" />
<rect x="516.31" y="133.27" width="3.66" height="33.93" fill="#000" stroke="#222" stroke-width="0.9" />
<line x1="522.6999999999999" y1="99.332" x2="522.6999999999999" y2="96.87625" stroke="#222" stroke-width="0.9" />
<line x1="521.4999999999999" y1="96.87625" x2="523.9" y2="96.87625" stroke="#222" stroke-width="0.9" />
<rect x="520.87" y="99.78" width="3.66" height="67.42" fill="#e61010" stroke="#222" stroke-width="0.9" />
<line x1="527.26" y1="109.15499999999999" x2="527.26" y2="108.48525" stroke="#222" stroke-width="0.9" />
<line x1="526.06" y1="108.48525" x2="528.46" y2="108.48525" stroke="#222" stroke-width="0.9" />
<rect x="525.43" y="109.60" width="3.66" height="57.59" fill="#1ed21e" stroke="#222" stroke-width="0.9" />
<line x1="531.8199999999999" y1="106.47599999999998" x2="531.8199999999999" y2="105.13649999999998" stroke="#222" stroke-width="0.9" />
<line x1="530.6199999999999" y1="105.13649999999998" x2="533.02" y2="105.13649999999998" stroke="#222" stroke-width="0.9" />
<rect x="529.99" y="106.93" width="3.66" height="60.27" fill="#ffff00" stroke="#222" stroke-width="0.9" />
<line x1="542.0799999999999" y1="102.45749999999998" x2="542.0799999999999" y2="100.22499999999998" stroke="#222" stroke-width="0.9" />
<line x1="540.8799999999999" y1="100.22499999999998" x2="543.28" y2="100.22499999999998" stroke="#222" stroke-width="0.9" />
<rect x="540.25" y="102.91" width="3.66" height="64.29" fill="#fff" stroke="#222" stroke-width="0.9" />
<rect x="544.81" y="126.57" width="3.66" height="40.63" fill="#000" stroke="#222" stroke-width="0.9" />
<line x1="551.1999999999999" y1="116.52224999999999" x2="551.1999999999999" y2="115.18274999999998" stroke="#222" stroke-width="0.9" />
<line x1="549.9999999999999" y1="115.18274999999998" x2="552.4" y2="115.18274999999998" stroke="#222" stroke-width="0.9" />
<rect x="549.37" y="116.97" width="3.66" height="50.23" fill="#e61010" stroke="#222" stroke-width="0.9" />
<line x1="555.7599999999999" y1="120.89794999999998" x2="555.7599999999999" y2="118.66544999999998" stroke="#222" stroke-width="0.9" />
<line x1="554.5599999999998" y1="118.66544999999998" x2="556.9599999999999" y2="118.66544999999998" stroke="#222" stroke-width="0.9" />
<rect x="553.93" y="121.35" width="3.66" height="45.85" fill="#1ed21e" stroke="#222" stroke-width="0.9" />
<rect x="558.49" y="113.85" width="3.66" height="53.35" fill="#ffff00" stroke="#222" stroke-width="0.9" />
<line x1="570.18" y1="125.00574999999998" x2="570.18" y2="119.42449999999998" stroke="#222" stroke-width="0.9" />
<line x1="568.9799999999999" y1="119.42449999999998" x2="571.38" y2="119.42449999999998" stroke="#222" stroke-width="0.9" />
<rect x="568.35" y="125.46" width="3.66" height="41.74" fill="#fff" stroke="#222" stroke-width="0.9" />
<line x1="574.7399999999999" y1="135.052" x2="574.7399999999999" y2="133.7125" stroke="#222" stroke-width="0.9" />
<line x1="573.5399999999998" y1="133.7125" x2="575.9399999999999" y2="133.7125" stroke="#222" stroke-width="0.9" />
<rect x="572.91" y="135.50" width="3.66" height="31.70" fill="#000" stroke="#222" stroke-width="0.9" />
<line x1="579.3" y1="105.71695" x2="579.3" y2="104.37745" stroke="#222" stroke-width="0.9" />
<line x1="578.0999999999999" y1="104.37745" x2="580.5" y2="104.37745" stroke="#222" stroke-width="0.9" />
<rect x="577.47" y="106.17" width="3.66" height="61.03" fill="#e61010" stroke="#222" stroke-width="0.9" />
<line x1="583.8599999999999" y1="108.08339999999998" x2="583.8599999999999" y2="105.85089999999998" stroke="#222" stroke-width="0.9" />
<line x1="582.6599999999999" y1="105.85089999999998" x2="585.06" y2="105.85089999999998" stroke="#222" stroke-width="0.9" />
<rect x="582.03" y="108.53" width="3.66" height="58.67" fill="#1ed21e" stroke="#222" stroke-width="0.9" />
<line x1="588.42" y1="102.18959999999998" x2="588.42" y2="99.28734999999999" stroke="#222" stroke-width="0.9" />
<line x1="587.2199999999999" y1="99.28734999999999" x2="589.62" y2="99.28734999999999" stroke="#222" stroke-width="0.9" />
<rect x="586.59" y="102.64" width="3.66" height="64.56" fill="#ffff00" stroke="#222" stroke-width="0.9" />
<line x1="511.3" y1="94.8" x2="534.6" y2="94.8" stroke="#555" stroke-width="1.3" />
<line x1="539.8" y1="94.8" x2="563.0999999999999" y2="94.8" stroke="#555" stroke-width="1.3" />
<line x1="567.9" y1="94.8" x2="591.1999999999999" y2="94.8" stroke="#555" stroke-width="1.3" />
<text x="523.0" y="92.6" font-size="8.2" text-anchor="middle" fill="#111" style="font-weight:bold;;stroke:#111;stroke-width:0.35px">*</text>
<text x="551.4" y="90.4" font-size="5.8" text-anchor="middle" fill="#111" style="font-weight:bold;font-style:italic;stroke:#111;stroke-width:0.35px">#</text>
<text transform="translate(579.2,91.1) scale(1,0.86)" font-size="8.2" text-anchor="middle" fill="#111" style="font-weight:bold;;stroke:#111;stroke-width:0.35px">@</text>
<text transform="translate(442.9,117) rotate(-90)" font-size="6.3" text-anchor="middle" fill="#1a1a1a" style="font-weight:bold;;stroke:#1a1a1a;stroke-width:0.1px">Relative optical density</text>
<text transform="translate(450.4,116) rotate(-90)" font-size="6.3" text-anchor="middle" fill="#111" style="font-weight:bold;;stroke:#111;stroke-width:0.3px">(% of control)</text>
<text x="459" y="177.4" font-size="6.4" text-anchor="middle" fill="#111" style="font-weight:bold;">Hypoxia</text>
<line x1="493.09999999999997" y1="175.2" x2="495.7" y2="175.2" stroke="#222" stroke-width="1.1" />
<line x1="520.4" y1="175.2" x2="524.6" y2="175.2" stroke="#111" stroke-width="1.1" />
<line x1="522.5" y1="173.1" x2="522.5" y2="177.29999999999998" stroke="#111" stroke-width="1.1" />
<line x1="549.3" y1="175.2" x2="553.5" y2="175.2" stroke="#111" stroke-width="1.1" />
<line x1="551.4" y1="173.1" x2="551.4" y2="177.29999999999998" stroke="#111" stroke-width="1.1" />
<line x1="577.6999999999999" y1="175.2" x2="581.9" y2="175.2" stroke="#111" stroke-width="1.1" />
<line x1="579.8" y1="173.1" x2="579.8" y2="177.29999999999998" stroke="#111" stroke-width="1.1" />
<text x="459" y="187.4" font-size="6.4" text-anchor="middle" fill="#111" style="font-weight:bold;">Glucosamine</text>
<line x1="493.09999999999997" y1="185.2" x2="495.7" y2="185.2" stroke="#222" stroke-width="1.1" />
<line x1="521.2" y1="185.2" x2="523.8" y2="185.2" stroke="#222" stroke-width="1.1" />
<line x1="549.3" y1="185.2" x2="553.5" y2="185.2" stroke="#111" stroke-width="1.1" />
<line x1="551.4" y1="183.1" x2="551.4" y2="187.29999999999998" stroke="#111" stroke-width="1.1" />
<line x1="577.6999999999999" y1="185.2" x2="581.9" y2="185.2" stroke="#111" stroke-width="1.1" />
<line x1="579.8" y1="183.1" x2="579.8" y2="187.29999999999998" stroke="#111" stroke-width="1.1" />
<text x="459" y="196.4" font-size="6.4" text-anchor="middle" fill="#111" style="font-weight:bold;"><tspan style="font-style:italic">gpat1</tspan> siRNA</text>
<line x1="493.09999999999997" y1="194.2" x2="495.7" y2="194.2" stroke="#222" stroke-width="1.1" />
<line x1="521.2" y1="194.2" x2="523.8" y2="194.2" stroke="#222" stroke-width="1.1" />
<line x1="550.1" y1="194.2" x2="552.6999999999999" y2="194.2" stroke="#222" stroke-width="1.1" />
<line x1="577.6999999999999" y1="194.2" x2="581.9" y2="194.2" stroke="#111" stroke-width="1.1" />
<line x1="579.8" y1="192.1" x2="579.8" y2="196.29999999999998" stroke="#111" stroke-width="1.1" />
<text x="459" y="206.9" font-size="6.4" text-anchor="middle" fill="#111" style="font-weight:bold;">NT siRNA</text>
<line x1="492.29999999999995" y1="204.7" x2="496.5" y2="204.7" stroke="#111" stroke-width="1.1" />
<line x1="494.4" y1="202.6" x2="494.4" y2="206.79999999999998" stroke="#111" stroke-width="1.1" />
<line x1="520.4" y1="204.7" x2="524.6" y2="204.7" stroke="#111" stroke-width="1.1" />
<line x1="522.5" y1="202.6" x2="522.5" y2="206.79999999999998" stroke="#111" stroke-width="1.1" />
<line x1="549.3" y1="204.7" x2="553.5" y2="204.7" stroke="#111" stroke-width="1.1" />
<line x1="551.4" y1="202.6" x2="551.4" y2="206.79999999999998" stroke="#111" stroke-width="1.1" />
<line x1="578.5" y1="204.7" x2="581.0999999999999" y2="204.7" stroke="#222" stroke-width="1.1" />
<line x1="52.0" y1="280.8" x2="52.0" y2="369.3" stroke="#666" stroke-width="1.3" />
<line x1="51.4" y1="368.7" x2="175" y2="368.7" stroke="#666" stroke-width="1.3" />
<line x1="50.6" y1="280.6" x2="52.0" y2="281.4" stroke="#444" stroke-width="0.9" />
<line x1="50.5" y1="368.7" x2="52.0" y2="368.7" stroke="#333" stroke-width="0.9" />
<text x="45.2" y="371.59999999999997" font-size="7.6" text-anchor="end" fill="#000" style="font-weight:bold;;stroke:#000;stroke-width:0.15px">0</text>
<line x1="50.5" y1="351.12" x2="52.0" y2="351.12" stroke="#333" stroke-width="0.9" />
<text x="45.2" y="354.02" font-size="7.6" text-anchor="end" fill="#000" style="font-weight:bold;;stroke:#000;stroke-width:0.15px">20</text>
<line x1="50.5" y1="333.53999999999996" x2="52.0" y2="333.53999999999996" stroke="#333" stroke-width="0.9" />
<text x="45.2" y="336.43999999999994" font-size="7.6" text-anchor="end" fill="#000" style="font-weight:bold;;stroke:#000;stroke-width:0.15px">40</text>
<line x1="50.5" y1="315.96" x2="52.0" y2="315.96" stroke="#333" stroke-width="0.9" />
<text x="45.2" y="318.85999999999996" font-size="7.6" text-anchor="end" fill="#000" style="font-weight:bold;;stroke:#000;stroke-width:0.15px">60</text>
<line x1="50.5" y1="298.38" x2="52.0" y2="298.38" stroke="#333" stroke-width="0.9" />
<text x="45.2" y="301.28" font-size="7.6" text-anchor="end" fill="#000" style="font-weight:bold;;stroke:#000;stroke-width:0.15px">80</text>
<line x1="50.5" y1="280.79999999999995" x2="52.0" y2="280.79999999999995" stroke="#333" stroke-width="0.9" />
<text x="45.2" y="283.69999999999993" font-size="7.6" text-anchor="end" fill="#000" style="font-weight:bold;;stroke:#000;stroke-width:0.15px">100</text>
<line x1="71.45" y1="302" x2="71.45" y2="300" stroke="#222" stroke-width="1.0" />
<line x1="70.15" y1="300" x2="72.75" y2="300" stroke="#222" stroke-width="1.0" />
<rect x="63.25" y="302.55" width="16.40" height="66.15" fill="#fff" stroke="#333" stroke-width="1.1" />
<line x1="99.35" y1="341.4" x2="99.35" y2="339.5" stroke="#222" stroke-width="1.0" />
<line x1="98.05" y1="339.5" x2="100.64999999999999" y2="339.5" stroke="#222" stroke-width="1.0" />
<rect x="91.45" y="341.95" width="15.80" height="26.75" fill="#000" stroke="#333" stroke-width="1.1" />
<line x1="127.35000000000001" y1="325.7" x2="127.35000000000001" y2="322.5" stroke="#222" stroke-width="1.0" />
<line x1="126.05000000000001" y1="322.5" x2="128.65" y2="322.5" stroke="#222" stroke-width="1.0" />
<rect x="119.45" y="326.25" width="15.80" height="42.45" fill="#000" stroke="#333" stroke-width="1.1" />
<line x1="155.05" y1="346.1" x2="155.05" y2="343.5" stroke="#222" stroke-width="1.0" />
<line x1="153.75" y1="343.5" x2="156.35000000000002" y2="343.5" stroke="#222" stroke-width="1.0" />
<rect x="147.25" y="346.65" width="15.60" height="22.05" fill="#000" stroke="#333" stroke-width="1.1" />
<text x="99.2" y="337.8" font-size="8.8" text-anchor="middle" fill="#000" style="font-weight:bold;">*</text>
<text x="127.7" y="320.5" font-size="6.8" text-anchor="middle" fill="#000" style="font-weight:bold;font-style:italic;stroke:#000;stroke-width:0.3px">#</text>
<text transform="translate(155.7,340.0) scale(1,0.75)" font-size="8.7" text-anchor="middle" fill="#000" style="font-weight:bold;;stroke:#000;stroke-width:0.25px">@</text>
<rect x="118.30" y="290.30" width="13.00" height="2.50" fill="#fff" stroke="#222" stroke-width="0.8" />
<rect x="117.90" y="296.50" width="13.80" height="3.00" fill="#000" stroke="none" stroke-width="0" />
<text x="135.8" y="293.4" font-size="6" text-anchor="start" fill="#222" style="">Normoxia</text>
<text x="135.8" y="300.6" font-size="6" text-anchor="start" fill="#222" style="">Hypoxia</text>
<text transform="translate(22.2,325) rotate(-90)" font-size="8.8" text-anchor="middle" fill="#000" style="font-weight:bold;;stroke:#000;stroke-width:0.25px">Cell viability (%)</text>
<text x="21.5" y="381.8" font-size="6.4" text-anchor="middle" fill="#000" style="font-weight:bold;">Hypoxia</text>
<line x1="69.60000000000001" y1="379.5" x2="72.2" y2="379.5" stroke="#222" stroke-width="1.1" />
<line x1="97.2" y1="379.5" x2="101.39999999999999" y2="379.5" stroke="#111" stroke-width="1.1" />
<line x1="99.3" y1="377.4" x2="99.3" y2="381.6" stroke="#111" stroke-width="1.1" />
<line x1="125.30000000000001" y1="379.5" x2="129.5" y2="379.5" stroke="#111" stroke-width="1.1" />
<line x1="127.4" y1="377.4" x2="127.4" y2="381.6" stroke="#111" stroke-width="1.1" />
<line x1="153.4" y1="379.5" x2="157.6" y2="379.5" stroke="#111" stroke-width="1.1" />
<line x1="155.5" y1="377.4" x2="155.5" y2="381.6" stroke="#111" stroke-width="1.1" />
<text x="21.5" y="392.8" font-size="6.4" text-anchor="middle" fill="#000" style="font-weight:bold;">Glucosamine</text>
<line x1="69.60000000000001" y1="390.5" x2="72.2" y2="390.5" stroke="#222" stroke-width="1.1" />
<line x1="98.0" y1="390.5" x2="100.6" y2="390.5" stroke="#222" stroke-width="1.1" />
<line x1="125.30000000000001" y1="390.5" x2="129.5" y2="390.5" stroke="#111" stroke-width="1.1" />
<line x1="127.4" y1="388.4" x2="127.4" y2="392.6" stroke="#111" stroke-width="1.1" />
<line x1="153.4" y1="390.5" x2="157.6" y2="390.5" stroke="#111" stroke-width="1.1" />
<line x1="155.5" y1="388.4" x2="155.5" y2="392.6" stroke="#111" stroke-width="1.1" />
<text x="21.5" y="402.8" font-size="6.4" text-anchor="middle" fill="#000" style="font-weight:bold;"><tspan style="font-style:italic">gpat1</tspan> siRNA</text>
<line x1="69.60000000000001" y1="400.5" x2="72.2" y2="400.5" stroke="#222" stroke-width="1.1" />
<line x1="98.0" y1="400.5" x2="100.6" y2="400.5" stroke="#222" stroke-width="1.1" />
<line x1="126.10000000000001" y1="400.5" x2="128.70000000000002" y2="400.5" stroke="#222" stroke-width="1.1" />
<line x1="153.4" y1="400.5" x2="157.6" y2="400.5" stroke="#111" stroke-width="1.1" />
<line x1="155.5" y1="398.4" x2="155.5" y2="402.6" stroke="#111" stroke-width="1.1" />
<text x="21.5" y="413.3" font-size="6.4" text-anchor="middle" fill="#000" style="font-weight:bold;">NT siRNA</text>
<line x1="68.80000000000001" y1="411.0" x2="73.0" y2="411.0" stroke="#111" stroke-width="1.1" />
<line x1="70.9" y1="408.9" x2="70.9" y2="413.1" stroke="#111" stroke-width="1.1" />
<line x1="97.2" y1="411.0" x2="101.39999999999999" y2="411.0" stroke="#111" stroke-width="1.1" />
<line x1="99.3" y1="408.9" x2="99.3" y2="413.1" stroke="#111" stroke-width="1.1" />
<line x1="125.30000000000001" y1="411.0" x2="129.5" y2="411.0" stroke="#111" stroke-width="1.1" />
<line x1="127.4" y1="408.9" x2="127.4" y2="413.1" stroke="#111" stroke-width="1.1" />
<line x1="154.2" y1="411.0" x2="156.8" y2="411.0" stroke="#222" stroke-width="1.1" />
<polyline points="210.1,271.9 213.4,266.6 216.7,271.9" fill="none" stroke="#000" stroke-width="1.4"/>
<line x1="213.4" y1="266.8" x2="213.4" y2="486" stroke="#000" stroke-width="1.4" />
<line x1="212.7" y1="485.3" x2="505.5" y2="485.3" stroke="#000" stroke-width="1.4" />
<polyline points="500.3,482 505.6,485.3 500.3,488.7" fill="none" stroke="#000" stroke-width="1.4"/>
<text transform="translate(203.9,379.5) rotate(-90)" font-size="10.8" text-anchor="middle" fill="#dd1020" style="font-weight:bold;">PI</text>
<text x="361.1" y="498.9" font-size="10.5" text-anchor="middle" fill="#22a050" style="font-weight:bold;letter-spacing:0.3px">Annexin V</text>
<line x1="267.4" y1="283.8" x2="267.4" y2="345.8" stroke="#faf8e8" stroke-width="0.6" />
<line x1="283.4" y1="283.8" x2="283.4" y2="345.8" stroke="#faf8e8" stroke-width="0.6" />
<line x1="234.4" y1="299.8" x2="299.9" y2="299.8" stroke="#faf8e8" stroke-width="0.6" />
<line x1="234.4" y1="314.8" x2="299.9" y2="314.8" stroke="#faf8e8" stroke-width="0.6" />
<line x1="234.4" y1="283.8" x2="234.4" y2="346.3" stroke="#f6bcae" stroke-width="0.75" />
<line x1="251.6" y1="283.8" x2="251.6" y2="346.3" stroke="#f6bcae" stroke-width="0.8" />
<line x1="234.4" y1="330.5" x2="299.9" y2="330.5" stroke="#f6bcae" stroke-width="0.75" />
<line x1="234.4" y1="345.8" x2="299.9" y2="345.8" stroke="#c4f0c4" stroke-width="0.8" />
<line x1="228.9" y1="283.8" x2="230.9" y2="283.8" stroke="#b0b0b0" stroke-width="0.7" />
<line x1="228.9" y1="299.8" x2="230.9" y2="299.8" stroke="#b0b0b0" stroke-width="0.7" />
<line x1="228.9" y1="314.8" x2="230.9" y2="314.8" stroke="#b0b0b0" stroke-width="0.7" />
<line x1="228.9" y1="330.5" x2="230.9" y2="330.5" stroke="#b0b0b0" stroke-width="0.7" />
<line x1="228.9" y1="345.8" x2="230.9" y2="345.8" stroke="#b0b0b0" stroke-width="0.7" />
<line x1="233.4" y1="348.8" x2="235.4" y2="348.8" stroke="#c8c8c8" stroke-width="0.6" />
<line x1="250.6" y1="348.8" x2="252.6" y2="348.8" stroke="#c8c8c8" stroke-width="0.6" />
<line x1="266.4" y1="348.8" x2="268.4" y2="348.8" stroke="#c8c8c8" stroke-width="0.6" />
<line x1="282.4" y1="348.8" x2="284.4" y2="348.8" stroke="#c8c8c8" stroke-width="0.6" />
<line x1="298.9" y1="348.8" x2="300.9" y2="348.8" stroke="#c8c8c8" stroke-width="0.6" />
<line x1="225.9" y1="318.1" x2="226.9" y2="318.1" stroke="#e84040" stroke-width="1.2" />
<line x1="262.4" y1="351.3" x2="272.4" y2="351.3" stroke="#70d8a0" stroke-width="0.9" />
<line x1="263.4" y1="284.1" x2="268.4" y2="284.1" stroke="#a0a0d8" stroke-width="0.8" />
<line x1="295.4" y1="284.3" x2="296.4" y2="284.3" stroke="#a0a0c8" stroke-width="0.8" />
<g filter="url(#bl2)">
<ellipse cx="245.4" cy="337" rx="5" ry="5" fill="#b070ff" opacity="0.45"/>
<ellipse cx="245.3" cy="337" rx="3.8" ry="4.2" fill="#7a14f0" opacity="0.95"/>
<ellipse cx="246.5" cy="335.5" rx="2" ry="2" fill="#5a10c0" opacity="0.9"/>
</g>
<text x="234.7" y="293.1" font-size="5.3" text-anchor="start" fill="#1a1a1a" style="font-weight:bold;">0.00 %</text>
<text x="243.0" y="300.2" font-size="5.3" text-anchor="middle" fill="#1a1a1a" style="font-weight:bold;">Q1</text>
<text x="280.2" y="293.1" font-size="5.3" text-anchor="start" fill="#1a1a1a" style="font-weight:bold;">0.00 %</text>
<text x="288.4" y="300.2" font-size="5.3" text-anchor="middle" fill="#1a1a1a" style="font-weight:bold;">Q2</text>
<text x="229.9" y="336.6" font-size="5.3" text-anchor="start" fill="#1a1a1a" style="font-weight:bold;">99.95 %</text>
<text x="239.6" y="343.0" font-size="5.3" text-anchor="middle" fill="#1a1a1a" style="font-weight:bold;">Q3</text>
<text x="280.2" y="336.6" font-size="5.3" text-anchor="start" fill="#1a1a1a" style="font-weight:bold;">0.05 %</text>
<text x="288.2" y="343.0" font-size="5.3" text-anchor="middle" fill="#1a1a1a" style="font-weight:bold;">Q4</text>
<line x1="354.6" y1="284.0" x2="354.6" y2="346.0" stroke="#faf8e8" stroke-width="0.6" />
<line x1="370.6" y1="284.0" x2="370.6" y2="346.0" stroke="#faf8e8" stroke-width="0.6" />
<line x1="321.6" y1="300.0" x2="387.1" y2="300.0" stroke="#faf8e8" stroke-width="0.6" />
<line x1="321.6" y1="315.0" x2="387.1" y2="315.0" stroke="#faf8e8" stroke-width="0.6" />
<line x1="321.6" y1="284.0" x2="321.6" y2="346.5" stroke="#f6bcae" stroke-width="0.75" />
<line x1="338.8" y1="284.0" x2="338.8" y2="346.5" stroke="#f6bcae" stroke-width="0.8" />
<line x1="321.6" y1="330.7" x2="387.1" y2="330.7" stroke="#f6bcae" stroke-width="0.75" />
<line x1="321.6" y1="346.0" x2="387.1" y2="346.0" stroke="#c4f0c4" stroke-width="0.8" />
<line x1="316.1" y1="284.0" x2="318.1" y2="284.0" stroke="#b0b0b0" stroke-width="0.7" />
<line x1="316.1" y1="300.0" x2="318.1" y2="300.0" stroke="#b0b0b0" stroke-width="0.7" />
<line x1="316.1" y1="315.0" x2="318.1" y2="315.0" stroke="#b0b0b0" stroke-width="0.7" />
<line x1="316.1" y1="330.7" x2="318.1" y2="330.7" stroke="#b0b0b0" stroke-width="0.7" />
<line x1="316.1" y1="346.0" x2="318.1" y2="346.0" stroke="#b0b0b0" stroke-width="0.7" />
<line x1="320.6" y1="349.0" x2="322.6" y2="349.0" stroke="#c8c8c8" stroke-width="0.6" />
<line x1="337.8" y1="349.0" x2="339.8" y2="349.0" stroke="#c8c8c8" stroke-width="0.6" />
<line x1="353.6" y1="349.0" x2="355.6" y2="349.0" stroke="#c8c8c8" stroke-width="0.6" />
<line x1="369.6" y1="349.0" x2="371.6" y2="349.0" stroke="#c8c8c8" stroke-width="0.6" />
<line x1="386.1" y1="349.0" x2="388.1" y2="349.0" stroke="#c8c8c8" stroke-width="0.6" />
<line x1="313.1" y1="318.3" x2="314.1" y2="318.3" stroke="#e84040" stroke-width="1.2" />
<line x1="349.6" y1="351.5" x2="359.6" y2="351.5" stroke="#70d8a0" stroke-width="0.9" />
<line x1="350.6" y1="284.3" x2="355.6" y2="284.3" stroke="#a0a0d8" stroke-width="0.8" />
<line x1="382.6" y1="284.5" x2="383.6" y2="284.5" stroke="#a0a0c8" stroke-width="0.8" />
<rect x="346.8" y="308.7" width="0.8" height="0.8" fill="#a8a8e0" opacity="0.35"/>
<rect x="352.7" y="307.3" width="0.8" height="0.8" fill="#a8a8e0" opacity="0.35"/>
<rect x="350.6" y="312.6" width="0.8" height="0.8" fill="#a8a8e0" opacity="0.35"/>
<rect x="342.0" y="315.1" width="0.8" height="0.8" fill="#a8a8e0" opacity="0.35"/>
<rect x="341.7" y="313.8" width="0.8" height="0.8" fill="#a8a8e0" opacity="0.35"/>
<rect x="342.3" y="307.6" width="0.8" height="0.8" fill="#a8a8e0" opacity="0.35"/>
<rect x="348.6" y="320.9" width="0.8" height="0.8" fill="#a8a8e0" opacity="0.35"/>
<rect x="343.2" y="310.0" width="0.8" height="0.8" fill="#a8a8e0" opacity="0.35"/>
<rect x="352.3" y="323.1" width="0.8" height="0.8" fill="#a8a8e0" opacity="0.35"/>
<rect x="351.4" y="313.1" width="0.8" height="0.8" fill="#a8a8e0" opacity="0.35"/>
<rect x="358.6" y="306.8" width="0.8" height="0.8" fill="#a8a8e0" opacity="0.35"/>
<rect x="356.5" y="311.2" width="0.8" height="0.8" fill="#a8a8e0" opacity="0.35"/>
<rect x="343.6" y="308.1" width="0.8" height="0.8" fill="#a8a8e0" opacity="0.35"/>
<rect x="346.6" y="320.7" width="0.8" height="0.8" fill="#a8a8e0" opacity="0.35"/>
<rect x="344.3" y="316.5" width="0.8" height="0.8" fill="#a8a8e0" opacity="0.35"/>
<rect x="352.5" y="312.7" width="0.8" height="0.8" fill="#a8a8e0" opacity="0.35"/>
<rect x="350.9" y="307.1" width="0.8" height="0.8" fill="#a8a8e0" opacity="0.35"/>
<rect x="342.1" y="309.7" width="0.8" height="0.8" fill="#a8a8e0" opacity="0.35"/>
<rect x="353.2" y="313.7" width="0.8" height="0.8" fill="#a8a8e0" opacity="0.35"/>
<rect x="346.7" y="316.5" width="0.8" height="0.8" fill="#a8a8e0" opacity="0.35"/>
<rect x="349.2" y="311.4" width="0.8" height="0.8" fill="#a8a8e0" opacity="0.35"/>
<rect x="355.3" y="318.6" width="0.8" height="0.8" fill="#a8a8e0" opacity="0.35"/>
<rect x="345.4" y="316.3" width="0.8" height="0.8" fill="#a8a8e0" opacity="0.35"/>
<rect x="350.5" y="321.8" width="0.8" height="0.8" fill="#a8a8e0" opacity="0.35"/>
<rect x="354.1" y="311.2" width="0.8" height="0.8" fill="#a8a8e0" opacity="0.35"/>
<rect x="358.6" y="308.1" width="0.8" height="0.8" fill="#a8a8e0" opacity="0.35"/>
<rect x="348.5" y="319.6" width="0.8" height="0.8" fill="#a8a8e0" opacity="0.35"/>
<rect x="343.7" y="314.8" width="0.8" height="0.8" fill="#a8a8e0" opacity="0.35"/>
<rect x="341.7" y="318.0" width="0.8" height="0.8" fill="#a8a8e0" opacity="0.35"/>
<rect x="354.8" y="316.3" width="0.8" height="0.8" fill="#a8a8e0" opacity="0.35"/>
<g filter="url(#bl2)">
<ellipse cx="353.5" cy="335.3" rx="14.5" ry="1.8" fill="#c4e2c4" opacity="0.6"/>
<rect x="364.4" y="334.6" width="1" height="1" fill="#90c090" opacity="0.22"/>
<rect x="359.2" y="335.6" width="1" height="1" fill="#90c090" opacity="0.22"/>
<rect x="355.8" y="335.1" width="1" height="1" fill="#90c090" opacity="0.22"/>
<rect x="363.4" y="336.9" width="1" height="1" fill="#90c090" opacity="0.22"/>
<rect x="352.7" y="335.9" width="1" height="1" fill="#90c090" opacity="0.22"/>
<rect x="340.8" y="336.0" width="1" height="1" fill="#90c090" opacity="0.22"/>
<rect x="357.8" y="337.1" width="1" height="1" fill="#90c090" opacity="0.22"/>
<rect x="362.8" y="334.5" width="1" height="1" fill="#90c090" opacity="0.22"/>
<rect x="350.2" y="335.9" width="1" height="1" fill="#90c090" opacity="0.22"/>
<rect x="339.7" y="335.2" width="1" height="1" fill="#90c090" opacity="0.22"/>
<rect x="343.9" y="333.9" width="1" height="1" fill="#90c090" opacity="0.22"/>
<rect x="340.7" y="336.3" width="1" height="1" fill="#90c090" opacity="0.22"/>
<rect x="342.8" y="334.4" width="1" height="1" fill="#90c090" opacity="0.22"/>
<rect x="350.3" y="336.6" width="1" height="1" fill="#90c090" opacity="0.22"/>
<rect x="341.3" y="335.1" width="1" height="1" fill="#90c090" opacity="0.22"/>
<rect x="354.9" y="336.7" width="1" height="1" fill="#90c090" opacity="0.22"/>
<rect x="362.8" y="336.6" width="1" height="1" fill="#90c090" opacity="0.22"/>
<rect x="347.1" y="335.0" width="1" height="1" fill="#90c090" opacity="0.22"/>
<rect x="349.4" y="336.7" width="1" height="1" fill="#90c090" opacity="0.22"/>
<rect x="366.8" y="334.0" width="1" height="1" fill="#90c090" opacity="0.22"/>
<rect x="344.1" y="334.3" width="1" height="1" fill="#90c090" opacity="0.22"/>
<rect x="345.8" y="335.2" width="1" height="1" fill="#90c090" opacity="0.22"/>
<rect x="356.1" y="334.4" width="1" height="1" fill="#90c090" opacity="0.22"/>
<rect x="339.1" y="335.0" width="1" height="1" fill="#90c090" opacity="0.22"/>
<rect x="349.7" y="335.5" width="1" height="1" fill="#90c090" opacity="0.22"/>
<rect x="366.6" y="336.0" width="1" height="1" fill="#90c090" opacity="0.22"/>
<rect x="353.9" y="335.7" width="1" height="1" fill="#90c090" opacity="0.22"/>
<rect x="358.6" y="333.7" width="1" height="1" fill="#90c090" opacity="0.22"/>
<rect x="365.1" y="336.3" width="1" height="1" fill="#90c090" opacity="0.22"/>
<rect x="364.4" y="336.4" width="1" height="1" fill="#90c090" opacity="0.22"/>
<rect x="350.4" y="334.9" width="1" height="1" fill="#90c090" opacity="0.22"/>
<rect x="342.0" y="335.8" width="1" height="1" fill="#90c090" opacity="0.22"/>
<rect x="340.8" y="333.7" width="1" height="1" fill="#90c090" opacity="0.22"/>
<rect x="345.1" y="334.1" width="1" height="1" fill="#90c090" opacity="0.22"/>
</g>
<g filter="url(#bl2)">
<ellipse cx="330.5" cy="335.8" rx="8.2" ry="3.2" fill="#b070ff" opacity="0.35"/>
<ellipse cx="332.5" cy="335.2" rx="4.6" ry="2.4" fill="#7a14f0" opacity="0.9"/>
<ellipse cx="333.5" cy="334.6" rx="2.2" ry="1.6" fill="#5a10c0" opacity="0.9"/>
<ellipse cx="327" cy="336" rx="2.5" ry="1.6" fill="#7a14f0" opacity="0.6"/>
</g>
<text x="323.2" y="296.2" font-size="5.3" text-anchor="start" fill="#1a1a1a" style="font-weight:bold;">1.02 %</text>
<text x="362.1" y="296.2" font-size="5.3" text-anchor="start" fill="#1a1a1a" style="font-weight:bold;">4.30 %</text>
<text x="316.8" y="343.4" font-size="5.3" text-anchor="start" fill="#1a1a1a" style="font-weight:bold;">74.26 %</text>
<text x="362.1" y="343.4" font-size="5.3" text-anchor="start" fill="#1a1a1a" style="font-weight:bold;">20.92 %</text>
<line x1="445.4" y1="284.0" x2="445.4" y2="346.0" stroke="#faf8e8" stroke-width="0.6" />
<line x1="461.4" y1="284.0" x2="461.4" y2="346.0" stroke="#faf8e8" stroke-width="0.6" />
<line x1="412.4" y1="300.0" x2="477.9" y2="300.0" stroke="#faf8e8" stroke-width="0.6" />
<line x1="412.4" y1="315.0" x2="477.9" y2="315.0" stroke="#faf8e8" stroke-width="0.6" />
<line x1="412.4" y1="284.0" x2="412.4" y2="346.5" stroke="#f6bcae" stroke-width="0.75" />
<line x1="429.59999999999997" y1="284.0" x2="429.59999999999997" y2="346.5" stroke="#f6bcae" stroke-width="0.8" />
<line x1="412.4" y1="330.7" x2="477.9" y2="330.7" stroke="#f6bcae" stroke-width="0.75" />
<line x1="412.4" y1="346.0" x2="477.9" y2="346.0" stroke="#c4f0c4" stroke-width="0.8" />
<line x1="406.9" y1="284.0" x2="408.9" y2="284.0" stroke="#b0b0b0" stroke-width="0.7" />
<line x1="406.9" y1="300.0" x2="408.9" y2="300.0" stroke="#b0b0b0" stroke-width="0.7" />
<line x1="406.9" y1="315.0" x2="408.9" y2="315.0" stroke="#b0b0b0" stroke-width="0.7" />
<line x1="406.9" y1="330.7" x2="408.9" y2="330.7" stroke="#b0b0b0" stroke-width="0.7" />
<line x1="406.9" y1="346.0" x2="408.9" y2="346.0" stroke="#b0b0b0" stroke-width="0.7" />
<line x1="411.4" y1="349.0" x2="413.4" y2="349.0" stroke="#c8c8c8" stroke-width="0.6" />
<line x1="428.59999999999997" y1="349.0" x2="430.59999999999997" y2="349.0" stroke="#c8c8c8" stroke-width="0.6" />
<line x1="444.4" y1="349.0" x2="446.4" y2="349.0" stroke="#c8c8c8" stroke-width="0.6" />
<line x1="460.4" y1="349.0" x2="462.4" y2="349.0" stroke="#c8c8c8" stroke-width="0.6" />
<line x1="476.9" y1="349.0" x2="478.9" y2="349.0" stroke="#c8c8c8" stroke-width="0.6" />
<line x1="403.9" y1="318.3" x2="404.9" y2="318.3" stroke="#e84040" stroke-width="1.2" />
<line x1="440.4" y1="351.5" x2="450.4" y2="351.5" stroke="#70d8a0" stroke-width="0.9" />
<line x1="441.4" y1="284.3" x2="446.4" y2="284.3" stroke="#a0a0d8" stroke-width="0.8" />
<line x1="473.4" y1="284.5" x2="474.4" y2="284.5" stroke="#a0a0c8" stroke-width="0.8" />
<rect x="438.8" y="307.9" width="0.8" height="0.8" fill="#a8a8e0" opacity="0.35"/>
<rect x="432.0" y="309.7" width="0.8" height="0.8" fill="#a8a8e0" opacity="0.35"/>
<rect x="434.0" y="313.5" width="0.8" height="0.8" fill="#a8a8e0" opacity="0.35"/>
<rect x="432.5" y="322.7" width="0.8" height="0.8" fill="#a8a8e0" opacity="0.35"/>
<rect x="444.3" y="309.7" width="0.8" height="0.8" fill="#a8a8e0" opacity="0.35"/>
<rect x="437.0" y="313.3" width="0.8" height="0.8" fill="#a8a8e0" opacity="0.35"/>
<rect x="439.3" y="309.2" width="0.8" height="0.8" fill="#a8a8e0" opacity="0.35"/>
<rect x="449.0" y="324.9" width="0.8" height="0.8" fill="#a8a8e0" opacity="0.35"/>
<rect x="441.3" y="315.7" width="0.8" height="0.8" fill="#a8a8e0" opacity="0.35"/>
<rect x="433.7" y="308.8" width="0.8" height="0.8" fill="#a8a8e0" opacity="0.35"/>
<rect x="438.9" y="311.8" width="0.8" height="0.8" fill="#a8a8e0" opacity="0.35"/>
<rect x="448.6" y="309.9" width="0.8" height="0.8" fill="#a8a8e0" opacity="0.35"/>
<rect x="432.5" y="324.1" width="0.8" height="0.8" fill="#a8a8e0" opacity="0.35"/>
<rect x="442.6" y="309.6" width="0.8" height="0.8" fill="#a8a8e0" opacity="0.35"/>
<rect x="442.9" y="307.5" width="0.8" height="0.8" fill="#a8a8e0" opacity="0.35"/>
<rect x="442.6" y="324.6" width="0.8" height="0.8" fill="#a8a8e0" opacity="0.35"/>
<rect x="449.3" y="319.5" width="0.8" height="0.8" fill="#a8a8e0" opacity="0.35"/>
<rect x="437.2" y="313.6" width="0.8" height="0.8" fill="#a8a8e0" opacity="0.35"/>
<rect x="435.3" y="320.9" width="0.8" height="0.8" fill="#a8a8e0" opacity="0.35"/>
<rect x="442.7" y="321.0" width="0.8" height="0.8" fill="#a8a8e0" opacity="0.35"/>
<rect x="438.6" y="311.0" width="0.8" height="0.8" fill="#a8a8e0" opacity="0.35"/>
<rect x="448.2" y="324.7" width="0.8" height="0.8" fill="#a8a8e0" opacity="0.35"/>
<rect x="449.1" y="321.5" width="0.8" height="0.8" fill="#a8a8e0" opacity="0.35"/>
<rect x="448.4" y="320.3" width="0.8" height="0.8" fill="#a8a8e0" opacity="0.35"/>
<rect x="436.5" y="316.3" width="0.8" height="0.8" fill="#a8a8e0" opacity="0.35"/>
<rect x="439.1" y="307.5" width="0.8" height="0.8" fill="#a8a8e0" opacity="0.35"/>
<rect x="432.6" y="312.0" width="0.8" height="0.8" fill="#a8a8e0" opacity="0.35"/>
<rect x="437.2" y="319.5" width="0.8" height="0.8" fill="#a8a8e0" opacity="0.35"/>
<rect x="451.1" y="315.1" width="0.8" height="0.8" fill="#a8a8e0" opacity="0.35"/>
<rect x="450.7" y="324.8" width="0.8" height="0.8" fill="#a8a8e0" opacity="0.35"/>
<g filter="url(#bl2)">
<ellipse cx="451.0" cy="335.3" rx="21.0" ry="1.8" fill="#c4e2c4" opacity="0.6"/>
<rect x="470.1" y="334.8" width="1" height="1" fill="#90c090" opacity="0.22"/>
<rect x="439.3" y="334.3" width="1" height="1" fill="#90c090" opacity="0.22"/>
<rect x="438.3" y="334.2" width="1" height="1" fill="#90c090" opacity="0.22"/>
<rect x="456.2" y="336.7" width="1" height="1" fill="#90c090" opacity="0.22"/>
<rect x="465.3" y="335.2" width="1" height="1" fill="#90c090" opacity="0.22"/>
<rect x="457.4" y="336.4" width="1" height="1" fill="#90c090" opacity="0.22"/>
<rect x="433.6" y="335.9" width="1" height="1" fill="#90c090" opacity="0.22"/>
<rect x="468.2" y="336.3" width="1" height="1" fill="#90c090" opacity="0.22"/>
<rect x="461.5" y="335.2" width="1" height="1" fill="#90c090" opacity="0.22"/>
<rect x="437.5" y="336.3" width="1" height="1" fill="#90c090" opacity="0.22"/>
<rect x="444.0" y="336.4" width="1" height="1" fill="#90c090" opacity="0.22"/>
<rect x="470.8" y="334.9" width="1" height="1" fill="#90c090" opacity="0.22"/>
<rect x="446.9" y="336.9" width="1" height="1" fill="#90c090" opacity="0.22"/>
<rect x="460.4" y="334.1" width="1" height="1" fill="#90c090" opacity="0.22"/>
<rect x="435.3" y="334.0" width="1" height="1" fill="#90c090" opacity="0.22"/>
<rect x="468.0" y="336.4" width="1" height="1" fill="#90c090" opacity="0.22"/>
<rect x="436.1" y="336.5" width="1" height="1" fill="#90c090" opacity="0.22"/>
<rect x="471.2" y="335.9" width="1" height="1" fill="#90c090" opacity="0.22"/>
<rect x="444.7" y="335.5" width="1" height="1" fill="#90c090" opacity="0.22"/>
<rect x="435.5" y="333.6" width="1" height="1" fill="#90c090" opacity="0.22"/>
<rect x="470.8" y="335.8" width="1" height="1" fill="#90c090" opacity="0.22"/>
<rect x="452.1" y="336.9" width="1" height="1" fill="#90c090" opacity="0.22"/>
<rect x="448.2" y="336.6" width="1" height="1" fill="#90c090" opacity="0.22"/>
<rect x="464.7" y="334.3" width="1" height="1" fill="#90c090" opacity="0.22"/>
<rect x="440.6" y="334.6" width="1" height="1" fill="#90c090" opacity="0.22"/>
<rect x="440.1" y="335.6" width="1" height="1" fill="#90c090" opacity="0.22"/>
<rect x="440.9" y="335.0" width="1" height="1" fill="#90c090" opacity="0.22"/>
<rect x="435.5" y="336.8" width="1" height="1" fill="#90c090" opacity="0.22"/>
<rect x="444.9" y="335.1" width="1" height="1" fill="#90c090" opacity="0.22"/>
<rect x="454.5" y="336.8" width="1" height="1" fill="#90c090" opacity="0.22"/>
<rect x="447.7" y="336.8" width="1" height="1" fill="#90c090" opacity="0.22"/>
<rect x="451.1" y="335.4" width="1" height="1" fill="#90c090" opacity="0.22"/>
<rect x="452.0" y="333.6" width="1" height="1" fill="#90c090" opacity="0.22"/>
<rect x="448.5" y="334.2" width="1" height="1" fill="#90c090" opacity="0.22"/>
<rect x="430.2" y="336.4" width="1" height="1" fill="#90c090" opacity="0.22"/>
<rect x="437.2" y="335.2" width="1" height="1" fill="#90c090" opacity="0.22"/>
<rect x="460.5" y="335.5" width="1" height="1" fill="#90c090" opacity="0.22"/>
<rect x="443.7" y="335.4" width="1" height="1" fill="#90c090" opacity="0.22"/>
<rect x="453.3" y="336.3" width="1" height="1" fill="#90c090" opacity="0.22"/>
<rect x="434.5" y="335.5" width="1" height="1" fill="#90c090" opacity="0.22"/>
<rect x="440.4" y="334.5" width="1" height="1" fill="#90c090" opacity="0.22"/>
<rect x="462.4" y="335.3" width="1" height="1" fill="#90c090" opacity="0.22"/>
<rect x="453.6" y="336.2" width="1" height="1" fill="#90c090" opacity="0.22"/>
<rect x="468.3" y="335.1" width="1" height="1" fill="#90c090" opacity="0.22"/>
<rect x="455.7" y="335.3" width="1" height="1" fill="#90c090" opacity="0.22"/>
<rect x="451.5" y="336.0" width="1" height="1" fill="#90c090" opacity="0.22"/>
<rect x="449.0" y="335.4" width="1" height="1" fill="#90c090" opacity="0.22"/>
<rect x="450.1" y="336.9" width="1" height="1" fill="#90c090" opacity="0.22"/>
<rect x="459.4" y="336.7" width="1" height="1" fill="#90c090" opacity="0.22"/>
<rect x="469.6" y="334.4" width="1" height="1" fill="#90c090" opacity="0.22"/>
</g>
<g filter="url(#bl2)">
<ellipse cx="421.5" cy="335.6" rx="8" ry="2.8" fill="#b070ff" opacity="0.35"/>
<ellipse cx="424" cy="335.2" rx="4.2" ry="2.2" fill="#7a14f0" opacity="0.9"/>
<ellipse cx="425" cy="335" rx="1.8" ry="1.3" fill="#5a10c0" opacity="0.85"/>
</g>
<text x="414" y="296.0" font-size="5.3" text-anchor="start" fill="#1a1a1a" style="font-weight:bold;">0.68 %</text>
<text x="453.5" y="296.0" font-size="5.3" text-anchor="start" fill="#1a1a1a" style="font-weight:bold;">2.76 %</text>
<text x="407.6" y="343.4" font-size="5.3" text-anchor="start" fill="#1a1a1a" style="font-weight:bold;">44.21 %</text>
<text x="453.5" y="343.4" font-size="5.3" text-anchor="start" fill="#1a1a1a" style="font-weight:bold;">52.34 %</text>
<line x1="266.4" y1="375.0" x2="266.4" y2="437.0" stroke="#faf8e8" stroke-width="0.6" />
<line x1="282.4" y1="375.0" x2="282.4" y2="437.0" stroke="#faf8e8" stroke-width="0.6" />
<line x1="233.4" y1="391.0" x2="298.9" y2="391.0" stroke="#faf8e8" stroke-width="0.6" />
<line x1="233.4" y1="406.0" x2="298.9" y2="406.0" stroke="#faf8e8" stroke-width="0.6" />
<line x1="233.4" y1="375.0" x2="233.4" y2="437.5" stroke="#f6bcae" stroke-width="0.75" />
<line x1="250.6" y1="375.0" x2="250.6" y2="437.5" stroke="#f6bcae" stroke-width="0.8" />
<line x1="233.4" y1="421.7" x2="298.9" y2="421.7" stroke="#f6bcae" stroke-width="0.75" />
<line x1="233.4" y1="437.0" x2="298.9" y2="437.0" stroke="#c4f0c4" stroke-width="0.8" />
<line x1="227.9" y1="375.0" x2="229.9" y2="375.0" stroke="#b0b0b0" stroke-width="0.7" />
<line x1="227.9" y1="391.0" x2="229.9" y2="391.0" stroke="#b0b0b0" stroke-width="0.7" />
<line x1="227.9" y1="406.0" x2="229.9" y2="406.0" stroke="#b0b0b0" stroke-width="0.7" />
<line x1="227.9" y1="421.7" x2="229.9" y2="421.7" stroke="#b0b0b0" stroke-width="0.7" />
<line x1="227.9" y1="437.0" x2="229.9" y2="437.0" stroke="#b0b0b0" stroke-width="0.7" />
<line x1="232.4" y1="440.0" x2="234.4" y2="440.0" stroke="#c8c8c8" stroke-width="0.6" />
<line x1="249.6" y1="440.0" x2="251.6" y2="440.0" stroke="#c8c8c8" stroke-width="0.6" />
<line x1="265.4" y1="440.0" x2="267.4" y2="440.0" stroke="#c8c8c8" stroke-width="0.6" />
<line x1="281.4" y1="440.0" x2="283.4" y2="440.0" stroke="#c8c8c8" stroke-width="0.6" />
<line x1="297.9" y1="440.0" x2="299.9" y2="440.0" stroke="#c8c8c8" stroke-width="0.6" />
<line x1="224.9" y1="409.3" x2="225.9" y2="409.3" stroke="#e84040" stroke-width="1.2" />
<line x1="261.4" y1="442.5" x2="271.4" y2="442.5" stroke="#70d8a0" stroke-width="0.9" />
<line x1="262.4" y1="375.3" x2="267.4" y2="375.3" stroke="#a0a0d8" stroke-width="0.8" />
<line x1="294.4" y1="375.5" x2="295.4" y2="375.5" stroke="#a0a0c8" stroke-width="0.8" />
<rect x="266.1" y="413.0" width="0.8" height="0.8" fill="#a8a8e0" opacity="0.35"/>
<rect x="271.1" y="398.5" width="0.8" height="0.8" fill="#a8a8e0" opacity="0.35"/>
<rect x="258.2" y="404.0" width="0.8" height="0.8" fill="#a8a8e0" opacity="0.35"/>
<rect x="257.3" y="400.3" width="0.8" height="0.8" fill="#a8a8e0" opacity="0.35"/>
<rect x="257.3" y="408.1" width="0.8" height="0.8" fill="#a8a8e0" opacity="0.35"/>
<rect x="270.1" y="412.1" width="0.8" height="0.8" fill="#a8a8e0" opacity="0.35"/>
<rect x="258.8" y="408.9" width="0.8" height="0.8" fill="#a8a8e0" opacity="0.35"/>
<rect x="267.9" y="398.6" width="0.8" height="0.8" fill="#a8a8e0" opacity="0.35"/>
<rect x="271.9" y="413.4" width="0.8" height="0.8" fill="#a8a8e0" opacity="0.35"/>
<rect x="260.0" y="413.1" width="0.8" height="0.8" fill="#a8a8e0" opacity="0.35"/>
<rect x="263.2" y="404.8" width="0.8" height="0.8" fill="#a8a8e0" opacity="0.35"/>
<rect x="273.8" y="411.0" width="0.8" height="0.8" fill="#a8a8e0" opacity="0.35"/>
<rect x="258.9" y="403.8" width="0.8" height="0.8" fill="#a8a8e0" opacity="0.35"/>
<rect x="265.3" y="402.1" width="0.8" height="0.8" fill="#a8a8e0" opacity="0.35"/>
<rect x="259.5" y="401.7" width="0.8" height="0.8" fill="#a8a8e0" opacity="0.35"/>
<rect x="269.0" y="396.4" width="0.8" height="0.8" fill="#a8a8e0" opacity="0.35"/>
<rect x="266.0" y="403.9" width="0.8" height="0.8" fill="#a8a8e0" opacity="0.35"/>
<rect x="256.3" y="402.0" width="0.8" height="0.8" fill="#a8a8e0" opacity="0.35"/>
<rect x="267.2" y="405.2" width="0.8" height="0.8" fill="#a8a8e0" opacity="0.35"/>
<rect x="257.2" y="413.7" width="0.8" height="0.8" fill="#a8a8e0" opacity="0.35"/>
<rect x="270.2" y="413.5" width="0.8" height="0.8" fill="#a8a8e0" opacity="0.35"/>
<rect x="257.9" y="400.8" width="0.8" height="0.8" fill="#a8a8e0" opacity="0.35"/>
<rect x="256.7" y="410.0" width="0.8" height="0.8" fill="#a8a8e0" opacity="0.35"/>
<rect x="260.9" y="398.3" width="0.8" height="0.8" fill="#a8a8e0" opacity="0.35"/>
<rect x="263.6" y="412.4" width="0.8" height="0.8" fill="#a8a8e0" opacity="0.35"/>
<g filter="url(#bl2)">
<ellipse cx="266.0" cy="427.8" rx="16.0" ry="1.8" fill="#c4e2c4" opacity="0.6"/>
<rect x="276.2" y="426.9" width="1" height="1" fill="#90c090" opacity="0.22"/>
<rect x="254.8" y="429.3" width="1" height="1" fill="#90c090" opacity="0.22"/>
<rect x="268.3" y="428.5" width="1" height="1" fill="#90c090" opacity="0.22"/>
<rect x="252.9" y="426.2" width="1" height="1" fill="#90c090" opacity="0.22"/>
<rect x="272.0" y="427.5" width="1" height="1" fill="#90c090" opacity="0.22"/>
<rect x="252.3" y="429.4" width="1" height="1" fill="#90c090" opacity="0.22"/>
<rect x="270.3" y="428.9" width="1" height="1" fill="#90c090" opacity="0.22"/>
<rect x="252.7" y="429.1" width="1" height="1" fill="#90c090" opacity="0.22"/>
<rect x="252.1" y="429.1" width="1" height="1" fill="#90c090" opacity="0.22"/>
<rect x="264.5" y="427.2" width="1" height="1" fill="#90c090" opacity="0.22"/>
<rect x="267.7" y="429.3" width="1" height="1" fill="#90c090" opacity="0.22"/>
<rect x="258.6" y="426.5" width="1" height="1" fill="#90c090" opacity="0.22"/>
<rect x="266.9" y="426.9" width="1" height="1" fill="#90c090" opacity="0.22"/>
<rect x="253.5" y="426.6" width="1" height="1" fill="#90c090" opacity="0.22"/>
<rect x="251.6" y="426.7" width="1" height="1" fill="#90c090" opacity="0.22"/>
<rect x="260.0" y="427.1" width="1" height="1" fill="#90c090" opacity="0.22"/>
<rect x="274.3" y="427.0" width="1" height="1" fill="#90c090" opacity="0.22"/>
<rect x="266.0" y="426.6" width="1" height="1" fill="#90c090" opacity="0.22"/>
<rect x="261.1" y="426.1" width="1" height="1" fill="#90c090" opacity="0.22"/>
<rect x="258.0" y="426.1" width="1" height="1" fill="#90c090" opacity="0.22"/>
<rect x="273.5" y="428.0" width="1" height="1" fill="#90c090" opacity="0.22"/>
<rect x="256.1" y="427.7" width="1" height="1" fill="#90c090" opacity="0.22"/>
<rect x="279.9" y="426.4" width="1" height="1" fill="#90c090" opacity="0.22"/>
<rect x="276.2" y="427.6" width="1" height="1" fill="#90c090" opacity="0.22"/>
<rect x="265.8" y="429.0" width="1" height="1" fill="#90c090" opacity="0.22"/>
<rect x="262.6" y="427.8" width="1" height="1" fill="#90c090" opacity="0.22"/>
<rect x="272.0" y="429.5" width="1" height="1" fill="#90c090" opacity="0.22"/>
<rect x="261.0" y="429.0" width="1" height="1" fill="#90c090" opacity="0.22"/>
<rect x="272.6" y="428.3" width="1" height="1" fill="#90c090" opacity="0.22"/>
<rect x="263.0" y="427.3" width="1" height="1" fill="#90c090" opacity="0.22"/>
<rect x="251.7" y="426.5" width="1" height="1" fill="#90c090" opacity="0.22"/>
<rect x="252.3" y="428.7" width="1" height="1" fill="#90c090" opacity="0.22"/>
<rect x="258.2" y="426.6" width="1" height="1" fill="#90c090" opacity="0.22"/>
<rect x="252.7" y="429.0" width="1" height="1" fill="#90c090" opacity="0.22"/>
<rect x="277.9" y="428.4" width="1" height="1" fill="#90c090" opacity="0.22"/>
<rect x="259.0" y="426.9" width="1" height="1" fill="#90c090" opacity="0.22"/>
<rect x="259.4" y="427.7" width="1" height="1" fill="#90c090" opacity="0.22"/>
<rect x="255.0" y="427.6" width="1" height="1" fill="#90c090" opacity="0.22"/>
</g>
<g filter="url(#bl2)">
<ellipse cx="241.5" cy="427.3" rx="8.3" ry="2.9" fill="#b070ff" opacity="0.35"/>
<ellipse cx="244" cy="427.3" rx="3.8" ry="2.3" fill="#7a14f0" opacity="0.9"/>
<ellipse cx="245" cy="426.8" rx="1.8" ry="1.6" fill="#5a10c0" opacity="0.9"/>
</g>
<text x="234.6" y="387.9" font-size="5.3" text-anchor="start" fill="#1a1a1a" style="font-weight:bold;">1.54 %</text>
<text x="274.5" y="387.9" font-size="5.3" text-anchor="start" fill="#1a1a1a" style="font-weight:bold;">3.34 %</text>
<text x="229.0" y="435.6" font-size="5.3" text-anchor="start" fill="#1a1a1a" style="font-weight:bold;">71.75 %</text>
<text x="274.5" y="435.6" font-size="5.3" text-anchor="start" fill="#1a1a1a" style="font-weight:bold;">23.35 %</text>
<line x1="355.4" y1="375.0" x2="355.4" y2="437.0" stroke="#faf8e8" stroke-width="0.6" />
<line x1="371.4" y1="375.0" x2="371.4" y2="437.0" stroke="#faf8e8" stroke-width="0.6" />
<line x1="322.4" y1="391.0" x2="387.9" y2="391.0" stroke="#faf8e8" stroke-width="0.6" />
<line x1="322.4" y1="406.0" x2="387.9" y2="406.0" stroke="#faf8e8" stroke-width="0.6" />
<line x1="322.4" y1="375.0" x2="322.4" y2="437.5" stroke="#f6bcae" stroke-width="0.75" />
<line x1="339.59999999999997" y1="375.0" x2="339.59999999999997" y2="437.5" stroke="#f6bcae" stroke-width="0.8" />
<line x1="322.4" y1="421.7" x2="387.9" y2="421.7" stroke="#f6bcae" stroke-width="0.75" />
<line x1="322.4" y1="437.0" x2="387.9" y2="437.0" stroke="#c4f0c4" stroke-width="0.8" />
<line x1="316.9" y1="375.0" x2="318.9" y2="375.0" stroke="#b0b0b0" stroke-width="0.7" />
<line x1="316.9" y1="391.0" x2="318.9" y2="391.0" stroke="#b0b0b0" stroke-width="0.7" />
<line x1="316.9" y1="406.0" x2="318.9" y2="406.0" stroke="#b0b0b0" stroke-width="0.7" />
<line x1="316.9" y1="421.7" x2="318.9" y2="421.7" stroke="#b0b0b0" stroke-width="0.7" />
<line x1="316.9" y1="437.0" x2="318.9" y2="437.0" stroke="#b0b0b0" stroke-width="0.7" />
<line x1="321.4" y1="440.0" x2="323.4" y2="440.0" stroke="#c8c8c8" stroke-width="0.6" />
<line x1="338.59999999999997" y1="440.0" x2="340.59999999999997" y2="440.0" stroke="#c8c8c8" stroke-width="0.6" />
<line x1="354.4" y1="440.0" x2="356.4" y2="440.0" stroke="#c8c8c8" stroke-width="0.6" />
<line x1="370.4" y1="440.0" x2="372.4" y2="440.0" stroke="#c8c8c8" stroke-width="0.6" />
<line x1="386.9" y1="440.0" x2="388.9" y2="440.0" stroke="#c8c8c8" stroke-width="0.6" />
<line x1="313.9" y1="409.3" x2="314.9" y2="409.3" stroke="#e84040" stroke-width="1.2" />
<line x1="350.4" y1="442.5" x2="360.4" y2="442.5" stroke="#70d8a0" stroke-width="0.9" />
<line x1="351.4" y1="375.3" x2="356.4" y2="375.3" stroke="#a0a0d8" stroke-width="0.8" />
<line x1="383.4" y1="375.5" x2="384.4" y2="375.5" stroke="#a0a0c8" stroke-width="0.8" />
<rect x="350.7" y="419.2" width="0.8" height="0.8" fill="#a8a8e0" opacity="0.35"/>
<rect x="363.5" y="410.9" width="0.8" height="0.8" fill="#a8a8e0" opacity="0.35"/>
<rect x="350.4" y="419.3" width="0.8" height="0.8" fill="#a8a8e0" opacity="0.35"/>
<rect x="351.6" y="407.1" width="0.8" height="0.8" fill="#a8a8e0" opacity="0.35"/>
<rect x="346.0" y="407.6" width="0.8" height="0.8" fill="#a8a8e0" opacity="0.35"/>
<rect x="354.5" y="410.1" width="0.8" height="0.8" fill="#a8a8e0" opacity="0.35"/>
<rect x="349.6" y="410.1" width="0.8" height="0.8" fill="#a8a8e0" opacity="0.35"/>
<rect x="346.1" y="405.3" width="0.8" height="0.8" fill="#a8a8e0" opacity="0.35"/>
<rect x="347.6" y="408.0" width="0.8" height="0.8" fill="#a8a8e0" opacity="0.35"/>
<rect x="346.8" y="400.4" width="0.8" height="0.8" fill="#a8a8e0" opacity="0.35"/>
<rect x="351.5" y="404.7" width="0.8" height="0.8" fill="#a8a8e0" opacity="0.35"/>
<rect x="356.5" y="410.6" width="0.8" height="0.8" fill="#a8a8e0" opacity="0.35"/>
<rect x="359.5" y="413.2" width="0.8" height="0.8" fill="#a8a8e0" opacity="0.35"/>
<rect x="358.9" y="417.6" width="0.8" height="0.8" fill="#a8a8e0" opacity="0.35"/>
<rect x="353.0" y="406.5" width="0.8" height="0.8" fill="#a8a8e0" opacity="0.35"/>
<rect x="363.7" y="403.0" width="0.8" height="0.8" fill="#a8a8e0" opacity="0.35"/>
<rect x="359.0" y="412.9" width="0.8" height="0.8" fill="#a8a8e0" opacity="0.35"/>
<rect x="346.8" y="416.7" width="0.8" height="0.8" fill="#a8a8e0" opacity="0.35"/>
<rect x="362.1" y="412.5" width="0.8" height="0.8" fill="#a8a8e0" opacity="0.35"/>
<rect x="359.2" y="416.2" width="0.8" height="0.8" fill="#a8a8e0" opacity="0.35"/>
<rect x="348.5" y="410.5" width="0.8" height="0.8" fill="#a8a8e0" opacity="0.35"/>
<rect x="355.1" y="416.7" width="0.8" height="0.8" fill="#a8a8e0" opacity="0.35"/>
<rect x="360.5" y="416.5" width="0.8" height="0.8" fill="#a8a8e0" opacity="0.35"/>
<rect x="356.5" y="417.9" width="0.8" height="0.8" fill="#a8a8e0" opacity="0.35"/>
<rect x="358.3" y="413.9" width="0.8" height="0.8" fill="#a8a8e0" opacity="0.35"/>
<rect x="350.1" y="400.6" width="0.8" height="0.8" fill="#a8a8e0" opacity="0.35"/>
<rect x="348.4" y="407.2" width="0.8" height="0.8" fill="#a8a8e0" opacity="0.35"/>
<rect x="347.9" y="416.7" width="0.8" height="0.8" fill="#a8a8e0" opacity="0.35"/>
<rect x="356.1" y="412.6" width="0.8" height="0.8" fill="#a8a8e0" opacity="0.35"/>
<rect x="357.3" y="413.6" width="0.8" height="0.8" fill="#a8a8e0" opacity="0.35"/>
<g filter="url(#bl2)">
<ellipse cx="356.0" cy="427.5" rx="16.0" ry="1.8" fill="#c4e2c4" opacity="0.6"/>
<rect x="355.7" y="425.7" width="1" height="1" fill="#90c090" opacity="0.22"/>
<rect x="365.5" y="428.4" width="1" height="1" fill="#90c090" opacity="0.22"/>
<rect x="356.1" y="427.6" width="1" height="1" fill="#90c090" opacity="0.22"/>
<rect x="361.1" y="425.9" width="1" height="1" fill="#90c090" opacity="0.22"/>
<rect x="363.6" y="426.6" width="1" height="1" fill="#90c090" opacity="0.22"/>
<rect x="342.4" y="426.7" width="1" height="1" fill="#90c090" opacity="0.22"/>
<rect x="363.3" y="426.4" width="1" height="1" fill="#90c090" opacity="0.22"/>
<rect x="363.7" y="429.2" width="1" height="1" fill="#90c090" opacity="0.22"/>
<rect x="355.8" y="427.1" width="1" height="1" fill="#90c090" opacity="0.22"/>
<rect x="355.3" y="428.2" width="1" height="1" fill="#90c090" opacity="0.22"/>
<rect x="364.5" y="427.9" width="1" height="1" fill="#90c090" opacity="0.22"/>
<rect x="360.6" y="426.0" width="1" height="1" fill="#90c090" opacity="0.22"/>
<rect x="344.7" y="426.6" width="1" height="1" fill="#90c090" opacity="0.22"/>
<rect x="363.8" y="426.8" width="1" height="1" fill="#90c090" opacity="0.22"/>
<rect x="358.2" y="425.7" width="1" height="1" fill="#90c090" opacity="0.22"/>
<rect x="341.9" y="426.7" width="1" height="1" fill="#90c090" opacity="0.22"/>
<rect x="361.5" y="428.2" width="1" height="1" fill="#90c090" opacity="0.22"/>
<rect x="361.6" y="426.7" width="1" height="1" fill="#90c090" opacity="0.22"/>
<rect x="356.5" y="427.4" width="1" height="1" fill="#90c090" opacity="0.22"/>
<rect x="354.9" y="426.1" width="1" height="1" fill="#90c090" opacity="0.22"/>
<rect x="368.6" y="426.4" width="1" height="1" fill="#90c090" opacity="0.22"/>
<rect x="371.3" y="429.1" width="1" height="1" fill="#90c090" opacity="0.22"/>
<rect x="340.6" y="427.4" width="1" height="1" fill="#90c090" opacity="0.22"/>
<rect x="366.2" y="429.2" width="1" height="1" fill="#90c090" opacity="0.22"/>
<rect x="354.4" y="426.7" width="1" height="1" fill="#90c090" opacity="0.22"/>
<rect x="346.7" y="429.1" width="1" height="1" fill="#90c090" opacity="0.22"/>
<rect x="346.7" y="427.8" width="1" height="1" fill="#90c090" opacity="0.22"/>
<rect x="344.5" y="427.6" width="1" height="1" fill="#90c090" opacity="0.22"/>
<rect x="370.5" y="426.2" width="1" height="1" fill="#90c090" opacity="0.22"/>
<rect x="366.2" y="427.5" width="1" height="1" fill="#90c090" opacity="0.22"/>
<rect x="368.4" y="428.2" width="1" height="1" fill="#90c090" opacity="0.22"/>
<rect x="347.4" y="428.9" width="1" height="1" fill="#90c090" opacity="0.22"/>
<rect x="355.6" y="425.8" width="1" height="1" fill="#90c090" opacity="0.22"/>
<rect x="340.1" y="427.5" width="1" height="1" fill="#90c090" opacity="0.22"/>
<rect x="354.4" y="426.8" width="1" height="1" fill="#90c090" opacity="0.22"/>
<rect x="344.5" y="426.9" width="1" height="1" fill="#90c090" opacity="0.22"/>
<rect x="350.1" y="428.7" width="1" height="1" fill="#90c090" opacity="0.22"/>
<rect x="340.1" y="428.4" width="1" height="1" fill="#90c090" opacity="0.22"/>
</g>
<g filter="url(#bl2)">
<ellipse cx="330.5" cy="427.2" rx="8.3" ry="2.9" fill="#b070ff" opacity="0.35"/>
<ellipse cx="333" cy="426.9" rx="3.9" ry="2.4" fill="#7a14f0" opacity="0.9"/>
<ellipse cx="334" cy="426.6" rx="1.8" ry="1.6" fill="#5a10c0" opacity="0.9"/>
</g>
<text x="324.4" y="386.9" font-size="5.3" text-anchor="start" fill="#1a1a1a" style="font-weight:bold;">0.89 %</text>
<text x="363.5" y="386.9" font-size="5.3" text-anchor="start" fill="#1a1a1a" style="font-weight:bold;">5.86 %</text>
<text x="317.6" y="434.1" font-size="5.3" text-anchor="start" fill="#1a1a1a" style="font-weight:bold;">57.32 %</text>
<text x="363.5" y="434.1" font-size="5.3" text-anchor="start" fill="#1a1a1a" style="font-weight:bold;">35.93 %</text>
<text x="263.1" y="361.8" font-size="6.9" text-anchor="middle" fill="#000" style="font-weight:bold;">Non-staining</text>
<text x="263.1" y="369.8" font-size="6.9" text-anchor="middle" fill="#000" style="font-weight:bold;">control</text>
<text x="349.9" y="365.8" font-size="6.9" text-anchor="middle" fill="#000" style="font-weight:bold;">NT siRNA</text>
<text x="441.4" y="362.2" font-size="6.9" text-anchor="middle" fill="#000" style="font-weight:bold;">Hypoxia</text>
<text x="441.4" y="369.6" font-size="6.9" text-anchor="middle" fill="#000" style="font-weight:bold;">+NT siRNA</text>
<text x="261.7" y="455.8" font-size="6.9" text-anchor="middle" fill="#000" style="font-weight:bold;">Hypoxia</text>
<text x="262.3" y="464.6" font-size="6.9" text-anchor="middle" fill="#000" style="font-weight:bold;">+Glucosamine</text>
<text x="262.3" y="473.4" font-size="6.9" text-anchor="middle" fill="#000" style="font-weight:bold;">+NT siRNA</text>
<text x="351.4" y="452.2" font-size="6.9" text-anchor="middle" fill="#000" style="font-weight:bold;">Hypoxia</text>
<text x="351.4" y="460.5" font-size="6.9" text-anchor="middle" fill="#000" style="font-weight:bold;">+Glucosamine</text>
<text x="351" y="468.7" font-size="6.9" text-anchor="middle" fill="#000" style="font-weight:bold;">+<tspan style="font-style:italic">gpat1</tspan> siRNA</text>
<line x1="561.7" y1="312.6" x2="561.7" y2="399.8" stroke="#333" stroke-width="1.1" />
<line x1="561.2" y1="399.3" x2="678" y2="399.3" stroke="#333" stroke-width="1.1" />
<line x1="560.4000000000001" y1="399.3" x2="561.7" y2="399.3" stroke="#333" stroke-width="0.9" />
<text x="557.2" y="401.6" font-size="6.4" text-anchor="end" fill="#111" style=";letter-spacing:0.15px;stroke:#111;stroke-width:0.25px">0</text>
<line x1="560.4000000000001" y1="382.08000000000004" x2="561.7" y2="382.08000000000004" stroke="#333" stroke-width="0.9" />
<text x="557.2" y="384.38000000000005" font-size="6.4" text-anchor="end" fill="#111" style=";letter-spacing:0.15px;stroke:#111;stroke-width:0.25px">20</text>
<line x1="560.4000000000001" y1="364.86" x2="561.7" y2="364.86" stroke="#333" stroke-width="0.9" />
<text x="557.2" y="367.16" font-size="6.4" text-anchor="end" fill="#111" style=";letter-spacing:0.15px;stroke:#111;stroke-width:0.25px">40</text>
<line x1="560.4000000000001" y1="347.64" x2="561.7" y2="347.64" stroke="#333" stroke-width="0.9" />
<text x="557.2" y="349.94" font-size="6.4" text-anchor="end" fill="#111" style=";letter-spacing:0.15px;stroke:#111;stroke-width:0.25px">60</text>
<line x1="560.4000000000001" y1="330.42" x2="561.7" y2="330.42" stroke="#333" stroke-width="0.9" />
<text x="557.2" y="332.72" font-size="6.4" text-anchor="end" fill="#111" style=";letter-spacing:0.15px;stroke:#111;stroke-width:0.25px">80</text>
<line x1="560.4000000000001" y1="313.20000000000005" x2="561.7" y2="313.20000000000005" stroke="#333" stroke-width="0.9" />
<text x="557.2" y="315.50000000000006" font-size="6.4" text-anchor="end" fill="#111" style=";letter-spacing:0.15px;stroke:#111;stroke-width:0.25px">100</text>
<line x1="581.5999999999999" y1="335.1" x2="581.5999999999999" y2="334.2" stroke="#222" stroke-width="1.2" />
<line x1="579.8499999999999" y1="334.2" x2="583.3499999999999" y2="334.2" stroke="#222" stroke-width="1.2" />
<rect x="574.10" y="335.80" width="15.00" height="63.50" fill="#fff" stroke="#222" stroke-width="1.4" />
<line x1="608.95" y1="353.4" x2="608.95" y2="351.2" stroke="#222" stroke-width="1.2" />
<line x1="607.2" y1="351.2" x2="610.7" y2="351.2" stroke="#222" stroke-width="1.2" />
<rect x="601.30" y="354.10" width="15.30" height="45.20" fill="#000" stroke="#222" stroke-width="1.4" />
<line x1="636.2" y1="341.1" x2="636.2" y2="338.4" stroke="#222" stroke-width="1.2" />
<line x1="634.45" y1="338.4" x2="637.95" y2="338.4" stroke="#222" stroke-width="1.2" />
<rect x="628.30" y="341.80" width="15.80" height="57.50" fill="#000" stroke="#222" stroke-width="1.4" />
<line x1="663.45" y1="347.2" x2="663.45" y2="346.5" stroke="#222" stroke-width="1.2" />
<line x1="661.7" y1="346.5" x2="665.2" y2="346.5" stroke="#222" stroke-width="1.2" />
<rect x="655.60" y="347.90" width="15.70" height="51.40" fill="#000" stroke="#222" stroke-width="1.4" />
<text x="609.5" y="352.2" font-size="13.2" text-anchor="middle" fill="#000" style="font-weight:bold;">*</text>
<text x="636.6" y="336.2" font-size="11.3" text-anchor="middle" fill="#000" style="font-weight:bold;;stroke:#000;stroke-width:0.3px">#</text>
<text transform="translate(662.8,341.8) scale(1,0.7)" font-size="9.3" text-anchor="middle" fill="#111" style="font-weight:bold;;stroke:#111;stroke-width:0.35px">@</text>
<rect x="621.30" y="312.90" width="15.20" height="2.70" fill="#fff" stroke="#222" stroke-width="0.8" />
<rect x="620.90" y="320.40" width="16.00" height="2.80" fill="#000" stroke="none" stroke-width="0" />
<text x="642.8" y="316.2" font-size="6.7" text-anchor="start" fill="#111" style="font-weight:bold;">Normoxia</text>
<text x="642.8" y="324.4" font-size="6.7" text-anchor="start" fill="#111" style="font-weight:bold;">Hypoxia</text>
<text transform="translate(537.0,357.4) rotate(-90)" font-size="8.0" text-anchor="middle" fill="#111" style="font-weight:bold;;letter-spacing:0.25px">Viable cells (Q3, %)</text>
<text x="537.8" y="412.4" font-size="7.1" text-anchor="middle" fill="#000" style="font-weight:bold;">Hypoxia</text>
<line x1="579.1" y1="409.9" x2="581.9" y2="409.9" stroke="#222" stroke-width="1.2" />
<line x1="605.75" y1="409.9" x2="610.25" y2="409.9" stroke="#111" stroke-width="1.2" />
<line x1="608" y1="407.65" x2="608" y2="412.15" stroke="#111" stroke-width="1.2" />
<line x1="634.15" y1="409.9" x2="638.65" y2="409.9" stroke="#111" stroke-width="1.2" />
<line x1="636.4" y1="407.65" x2="636.4" y2="412.15" stroke="#111" stroke-width="1.2" />
<line x1="663.3000000000001" y1="409.9" x2="666.1" y2="409.9" stroke="#222" stroke-width="1.2" />
<text x="537.8" y="424.5" font-size="7.1" text-anchor="middle" fill="#000" style="font-weight:bold;">Glucosamine</text>
<line x1="579.1" y1="422.0" x2="581.9" y2="422.0" stroke="#222" stroke-width="1.2" />
<line x1="606.6" y1="422.0" x2="609.4" y2="422.0" stroke="#222" stroke-width="1.2" />
<line x1="634.15" y1="422.0" x2="638.65" y2="422.0" stroke="#111" stroke-width="1.2" />
<line x1="636.4" y1="419.75" x2="636.4" y2="424.25" stroke="#111" stroke-width="1.2" />
<line x1="662.45" y1="422.0" x2="666.95" y2="422.0" stroke="#111" stroke-width="1.2" />
<line x1="664.7" y1="419.75" x2="664.7" y2="424.25" stroke="#111" stroke-width="1.2" />
<text x="537.8" y="437.2" font-size="7.1" text-anchor="middle" fill="#000" style="font-weight:bold;"><tspan style="font-style:italic">gpat1</tspan> siRNA</text>
<line x1="579.1" y1="434.7" x2="581.9" y2="434.7" stroke="#222" stroke-width="1.2" />
<line x1="606.6" y1="434.7" x2="609.4" y2="434.7" stroke="#222" stroke-width="1.2" />
<line x1="635.0" y1="434.7" x2="637.8" y2="434.7" stroke="#222" stroke-width="1.2" />
<line x1="662.45" y1="434.7" x2="666.95" y2="434.7" stroke="#111" stroke-width="1.2" />
<line x1="664.7" y1="432.45" x2="664.7" y2="436.95" stroke="#111" stroke-width="1.2" />
<text x="537.8" y="449.6" font-size="7.1" text-anchor="middle" fill="#000" style="font-weight:bold;">NT siRNA</text>
<line x1="578.25" y1="447.1" x2="582.75" y2="447.1" stroke="#111" stroke-width="1.2" />
<line x1="580.5" y1="444.85" x2="580.5" y2="449.35" stroke="#111" stroke-width="1.2" />
<line x1="605.75" y1="447.1" x2="610.25" y2="447.1" stroke="#111" stroke-width="1.2" />
<line x1="608" y1="444.85" x2="608" y2="449.35" stroke="#111" stroke-width="1.2" />
<line x1="634.15" y1="447.1" x2="638.65" y2="447.1" stroke="#111" stroke-width="1.2" />
<line x1="636.4" y1="444.85" x2="636.4" y2="449.35" stroke="#111" stroke-width="1.2" />
<line x1="663.3000000000001" y1="447.1" x2="666.1" y2="447.1" stroke="#222" stroke-width="1.2" />
</svg></body></html>
